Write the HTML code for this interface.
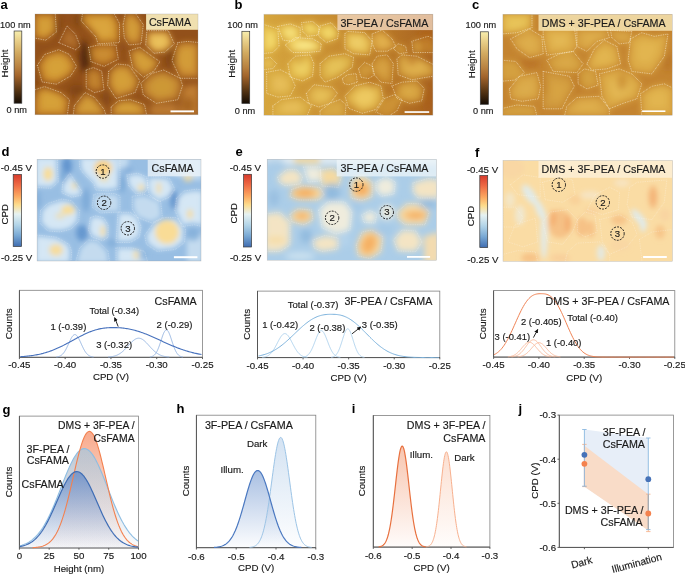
<!DOCTYPE html><html><head><meta charset="utf-8"><style>html,body{margin:0;padding:0;background:#fff;width:685px;height:574px;overflow:hidden}svg{display:block;will-change:transform}text{font-family:"Liberation Sans",sans-serif;stroke:#1a1a1a;stroke-width:0.16px}text[font-weight="bold"]{stroke-width:0}</style></head><body>
<svg width="685" height="574" viewBox="0 0 685 574" font-family="Liberation Sans, sans-serif">
<defs>
<linearGradient id="cbH" x1="0" y1="0" x2="0" y2="1">
<stop offset="0" stop-color="#f7eeae"/><stop offset="0.12" stop-color="#ead28c"/><stop offset="0.3" stop-color="#d2aa60"/>
<stop offset="0.5" stop-color="#b88140"/><stop offset="0.62" stop-color="#a2642c"/><stop offset="0.8" stop-color="#5e3a16"/><stop offset="1" stop-color="#150c04"/></linearGradient>
<linearGradient id="cbC" x1="0" y1="0" x2="0" y2="1">
<stop offset="0" stop-color="#d73a2c"/><stop offset="0.15" stop-color="#ef6c45"/><stop offset="0.3" stop-color="#fca860"/>
<stop offset="0.42" stop-color="#fddc8c"/><stop offset="0.55" stop-color="#e6f2f2"/><stop offset="0.7" stop-color="#b2d4e8"/><stop offset="0.85" stop-color="#78a8d4"/><stop offset="1" stop-color="#3f6cb0"/></linearGradient>
<filter id="bl3" x="-20%" y="-20%" width="140%" height="140%"><feGaussianBlur stdDeviation="3.4"/></filter>
<filter id="bl25" x="-20%" y="-20%" width="140%" height="140%"><feGaussianBlur stdDeviation="2.4"/></filter>
<filter id="bl32" x="-20%" y="-20%" width="140%" height="140%"><feGaussianBlur stdDeviation="3.2"/></filter>
<filter id="bl5" x="-20%" y="-20%" width="140%" height="140%"><feGaussianBlur stdDeviation="4.5"/></filter>
<linearGradient id="gDB" x1="0" y1="0" x2="0" y2="1"><stop offset="0" stop-color="#6a8ec8" stop-opacity="0.85"/><stop offset="1" stop-color="#8aa8d8" stop-opacity="0.05"/></linearGradient>
<linearGradient id="gLB" x1="0" y1="0" x2="0" y2="1"><stop offset="0" stop-color="#9cc4e6" stop-opacity="0.7"/><stop offset="1" stop-color="#9cc4e6" stop-opacity="0.03"/></linearGradient>
<linearGradient id="gOR" x1="0" y1="0" x2="0" y2="1"><stop offset="0" stop-color="#f5865c" stop-opacity="0.7"/><stop offset="1" stop-color="#f5865c" stop-opacity="0.03"/></linearGradient>
<linearGradient id="gGR" x1="0" y1="0" x2="0" y2="1"><stop offset="0" stop-color="#c2c4ca" stop-opacity="0.95"/><stop offset="0.6" stop-color="#dcdde2" stop-opacity="0.6"/><stop offset="1" stop-color="#f4f4f6" stop-opacity="0.3"/></linearGradient>
<linearGradient id="hDB" x1="0" y1="0" x2="0" y2="1"><stop offset="0" stop-color="#6f95cf" stop-opacity="0.6"/><stop offset="1" stop-color="#6f95cf" stop-opacity="0.02"/></linearGradient>
<linearGradient id="hLB" x1="0" y1="0" x2="0" y2="1"><stop offset="0" stop-color="#b0cbe8" stop-opacity="0.55"/><stop offset="1" stop-color="#b0cbe8" stop-opacity="0.02"/></linearGradient>
<linearGradient id="iOR" x1="0" y1="0" x2="0" y2="1"><stop offset="0" stop-color="#f08c60" stop-opacity="0.5"/><stop offset="1" stop-color="#f08c60" stop-opacity="0.03"/></linearGradient>
<linearGradient id="iLO" x1="0" y1="0" x2="0" y2="1"><stop offset="0" stop-color="#f8b898" stop-opacity="0.45"/><stop offset="1" stop-color="#f8b898" stop-opacity="0.03"/></linearGradient>
<marker id="arr" viewBox="0 0 10 10" refX="9" refY="5" markerWidth="4.5" markerHeight="4.5" orient="auto"><path d="M0,0 L10,5 L0,10 z" fill="#111"/></marker>
</defs>
<rect width="685" height="574" fill="#fff"/>
<text x="0.40" y="9.30" font-size="13" text-anchor="start" font-weight="bold" fill="#000" >a</text>
<text x="234.60" y="9.40" font-size="13" text-anchor="start" font-weight="bold" fill="#000" >b</text>
<text x="471.90" y="9.40" font-size="13" text-anchor="start" font-weight="bold" fill="#000" >c</text>
<text x="1.40" y="155.60" font-size="13" text-anchor="start" font-weight="bold" fill="#000" >d</text>
<text x="235.60" y="155.60" font-size="13" text-anchor="start" font-weight="bold" fill="#000" >e</text>
<text x="474.90" y="156.60" font-size="13" text-anchor="start" font-weight="bold" fill="#000" >f</text>
<text x="2.40" y="413.60" font-size="13" text-anchor="start" font-weight="bold" fill="#000" >g</text>
<text x="176.40" y="413.20" font-size="13" text-anchor="start" font-weight="bold" fill="#000" >h</text>
<text x="351.80" y="413.20" font-size="13" text-anchor="start" font-weight="bold" fill="#000" >i</text>
<text x="518.60" y="413.20" font-size="13" text-anchor="start" font-weight="bold" fill="#000" >j</text>
<rect x="14.10" y="31.00" width="7.70" height="72.20" fill="url(#cbH)" stroke="#3a3a3a" stroke-width="0.7"/>
<text x="0.00" y="27.80" font-size="9.2" text-anchor="start" fill="#1a1a1a" >100 nm</text>
<text x="6.60" y="113.20" font-size="9.2" text-anchor="start" fill="#1a1a1a" >0 nm</text>
<text x="0" y="0" font-size="9.7" text-anchor="middle" fill="#1a1a1a" transform="translate(7.80,63.50) rotate(-90)">Height</text>
<rect x="241.90" y="31.30" width="7.80" height="72.10" fill="url(#cbH)" stroke="#3a3a3a" stroke-width="0.7"/>
<text x="227.30" y="28.00" font-size="9.2" text-anchor="start" fill="#1a1a1a" >100 nm</text>
<text x="234.80" y="113.60" font-size="9.2" text-anchor="start" fill="#1a1a1a" >0 nm</text>
<text x="0" y="0" font-size="9.7" text-anchor="middle" fill="#1a1a1a" transform="translate(235.30,63.80) rotate(-90)">Height</text>
<rect x="480.30" y="31.80" width="8.10" height="72.50" fill="url(#cbH)" stroke="#3a3a3a" stroke-width="0.7"/>
<text x="465.60" y="28.20" font-size="9.2" text-anchor="start" fill="#1a1a1a" >100 nm</text>
<text x="473.00" y="114.30" font-size="9.2" text-anchor="start" fill="#1a1a1a" >0 nm</text>
<text x="0" y="0" font-size="9.7" text-anchor="middle" fill="#1a1a1a" transform="translate(474.50,64.30) rotate(-90)">Height</text>
<clipPath id="ca"><rect x="35.00" y="14.00" width="163.00" height="100.80"/></clipPath>
<g clip-path="url(#ca)">
<rect x="35.00" y="14.00" width="163.00" height="100.80" fill="#92501a"/>
<g filter="url(#bl3)">
<path d="M34.5,13.7 L54.6,13.7 L55.7,31.6 L45.7,39.4 L34.5,37.2 Z" fill="#cc8a2e" opacity="1.0"/>
<path d="M59.6,42.4 L67.4,26.7 L75.2,34.6 L79.7,45.8 L75.2,49.1 Z" fill="#a86424" opacity="1.0"/>
<path d="M82.6,21.5 L96.1,36.1 L98.3,42.8 L118.4,41.7 L118.4,23.8 L112.8,13.7 L83.8,13.7 Z" fill="#d0922f" opacity="1.0"/>
<path d="M123.6,25.0 L124.7,37.3 L129.2,44.0 L140.4,42.9 L142.6,25.0 L134.8,13.8 L125.8,13.8 Z" fill="#ca8a30" opacity="1.0"/>
<path d="M147.6,31.4 L146.5,44.8 L154.3,52.6 L164.4,51.5 L173.4,43.7 L167.8,31.4 Z" fill="#dea646" opacity="1.0"/>
<path d="M178.3,43.5 L187.3,42.3 L198.5,43.5 L198.5,77.0 L180.6,77.0 L172.8,60.2 Z" fill="#ca8a30" opacity="1.0"/>
<path d="M38.6,65.3 L45.3,55.2 L58.7,50.7 L68.8,55.2 L75.5,66.4 L69.9,75.3 L56.5,83.2 L43.0,80.9 Z" fill="#cc8c2e" opacity="1.0"/>
<path d="M89.4,47.7 L98.4,45.5 L115.2,45.5 L117.4,58.9 L104.0,65.6 L91.7,61.2 Z" fill="#c07a28" opacity="1.0"/>
<path d="M130.0,51.6 L140.0,48.2 L152.4,57.2 L159.1,61.6 L153.5,70.6 L143.4,76.2 L133.3,67.2 Z" fill="#ca8c30" opacity="1.0"/>
<path d="M86.7,70.5 L93.4,68.3 L101.2,71.7 L103.5,89.6 L94.5,91.8 L86.7,87.3 Z" fill="#b87428" opacity="1.0"/>
<path d="M109.6,71.7 L117.4,64.9 L128.6,66.1 L138.7,80.6 L134.2,91.8 L116.3,97.4 L108.5,85.1 Z" fill="#ca8c30" opacity="1.0"/>
<path d="M142.2,83.2 L152.3,74.3 L163.5,70.9 L179.1,78.8 L181.4,85.5 L176.9,98.9 L156.8,102.2 L144.5,94.4 Z" fill="#c48630" opacity="1.0"/>
<path d="M34.9,90.8 L45.0,87.4 L60.6,93.0 L68.5,99.8 L66.2,115.4 L34.9,115.4 Z" fill="#cc8c2e" opacity="1.0"/>
<path d="M75.2,105.7 L85.3,93.4 L94.2,97.9 L103.2,109.1 L105.4,115.8 L74.1,115.8 Z" fill="#c88a30" opacity="1.0"/>
<path d="M112.1,106.9 L118.9,101.3 L130.0,100.2 L143.5,104.7 L145.7,115.8 L112.1,115.8 Z" fill="#ca8c30" opacity="1.0"/>
<path d="M184.1,86.3 L198.6,84.1 L198.6,115.4 L178.5,115.4 L180.7,102.0 Z" fill="#c07e30" opacity="1.0"/>
<path d="M150.1,104.8 L177.0,103.7 L177.0,116.0 L150.1,116.0 Z" fill="#bc7a30" opacity="1.0"/>
<path d="M38.3,18.5 L51.1,18.5 L51.9,30.0 L45.4,35.0 L38.3,33.5 Z" fill="#d6a43a" opacity="0.8"/>
<path d="M63.9,41.4 L68.9,31.4 L73.9,36.4 L76.7,43.6 L73.9,45.7 Z" fill="#b47430" opacity="0.8"/>
<path d="M89.5,23.7 L98.0,33.0 L99.5,37.3 L112.3,36.6 L112.3,25.2 L108.7,18.7 L90.2,18.7 Z" fill="#dcaa42" opacity="0.8"/>
<path d="M126.5,26.3 L127.2,34.2 L130.1,38.5 L137.2,37.8 L138.6,26.3 L133.6,19.2 L127.9,19.2 Z" fill="#d4a03a" opacity="0.8"/>
<path d="M151.7,35.4 L151.0,44.0 L156.0,49.0 L162.5,48.3 L168.2,43.3 L164.6,35.4 Z" fill="#ecc860" opacity="0.8"/>
<path d="M181.1,48.4 L186.8,47.7 L194.0,48.4 L194.0,69.9 L182.5,69.9 L177.5,59.2 Z" fill="#d4a03a" opacity="0.8"/>
<path d="M45.2,65.7 L49.5,59.3 L58.1,56.4 L64.5,59.3 L68.8,66.4 L65.2,72.2 L56.7,77.2 L48.1,75.7 Z" fill="#d8a63a" opacity="0.8"/>
<path d="M94.2,50.0 L99.9,48.6 L110.6,48.6 L112.1,57.2 L103.5,61.5 L95.6,58.6 Z" fill="#cc9232" opacity="0.8"/>
<path d="M135.2,55.3 L141.7,53.1 L149.5,58.8 L153.8,61.7 L150.2,67.4 L143.8,71.0 L137.4,65.3 Z" fill="#d6a43c" opacity="0.8"/>
<path d="M89.4,73.9 L93.7,72.5 L98.7,74.6 L100.2,86.1 L94.4,87.5 L89.4,84.6 Z" fill="#c48830" opacity="0.8"/>
<path d="M114.0,74.5 L119.0,70.3 L126.2,71.0 L132.6,80.3 L129.8,87.4 L118.3,91.0 L113.3,83.1 Z" fill="#d6a43c" opacity="0.8"/>
<path d="M149.4,84.2 L155.8,78.5 L163.0,76.4 L173.0,81.4 L174.4,85.7 L171.5,94.2 L158.7,96.4 L150.8,91.4 Z" fill="#d09c38" opacity="0.8"/>
<path d="M41.0,94.2 L47.4,92.1 L57.4,95.7 L62.4,100.0 L61.0,110.0 L41.0,110.0 Z" fill="#d8a63a" opacity="0.8"/>
<path d="M80.4,105.9 L86.8,98.0 L92.5,100.9 L98.3,108.0 L99.7,112.3 L79.7,112.3 Z" fill="#d4a03a" opacity="0.8"/>
<path d="M117.5,107.1 L121.8,103.5 L129.0,102.8 L137.5,105.7 L139.0,112.8 L117.5,112.8 Z" fill="#d6a43c" opacity="0.8"/>
<ellipse cx="85.0" cy="58.0" rx="6.0" ry="15.0" fill="#5a2c0c" opacity="0.85" transform="rotate(0 85.0 58.0)"/>
<ellipse cx="86.0" cy="57.0" rx="3.0" ry="12.0" fill="#4a2408" opacity="0.8" transform="rotate(0 86.0 57.0)"/>
<ellipse cx="57.5" cy="27.0" rx="2.2" ry="12.0" fill="#6e3a10" opacity="0.8" transform="rotate(0 57.5 27.0)"/>
<ellipse cx="79.0" cy="20.0" rx="3.0" ry="6.0" fill="#6e3a10" opacity="0.75" transform="rotate(0 79.0 20.0)"/>
<ellipse cx="82.0" cy="44.0" rx="3.0" ry="4.0" fill="#5a2c0c" opacity="0.8" transform="rotate(0 82.0 44.0)"/>
<ellipse cx="77.0" cy="90.0" rx="8.0" ry="5.0" fill="#7a4014" opacity="0.75" transform="rotate(0 77.0 90.0)"/>
<ellipse cx="106.0" cy="98.0" rx="3.0" ry="8.0" fill="#7a4014" opacity="0.65" transform="rotate(0 106.0 98.0)"/>
<ellipse cx="171.0" cy="58.0" rx="5.0" ry="10.0" fill="#7a4014" opacity="0.7" transform="rotate(0 171.0 58.0)"/>
<ellipse cx="188.0" cy="105.0" rx="6.0" ry="8.0" fill="#8a4a16" opacity="0.5" transform="rotate(0 188.0 105.0)"/>
<ellipse cx="36.0" cy="80.0" rx="2.0" ry="18.0" fill="#7a4014" opacity="0.6" transform="rotate(0 36.0 80.0)"/>
<ellipse cx="140.0" cy="82.0" rx="3.0" ry="6.0" fill="#8a4a16" opacity="0.5" transform="rotate(0 140.0 82.0)"/>
<ellipse cx="122.0" cy="48.0" rx="5.0" ry="3.0" fill="#8a4a16" opacity="0.4" transform="rotate(0 122.0 48.0)"/>
</g>
<path d="M33.8,12.8 L55.2,12.8 L56.4,31.9 L45.7,40.2 L33.8,37.8 Z" fill="none" stroke="#fff8e8" stroke-width="0.8" stroke-linecap="round" stroke-dasharray="0.01 1.75" opacity="0.75"/>
<path d="M58.8,42.6 L67.1,25.9 L75.5,34.2 L80.2,46.1 L75.5,49.7 Z" fill="none" stroke="#fff8e8" stroke-width="0.8" stroke-linecap="round" stroke-dasharray="0.01 1.75" opacity="0.75"/>
<path d="M81.4,21.1 L95.7,36.6 L98.1,43.8 L119.5,42.6 L119.5,23.5 L113.6,12.8 L82.6,12.8 Z" fill="none" stroke="#fff8e8" stroke-width="0.8" stroke-linecap="round" stroke-dasharray="0.01 1.75" opacity="0.75"/>
<path d="M123.1,24.7 L124.3,37.8 L129.0,45.0 L141.0,43.8 L143.3,24.7 L135.0,12.8 L125.5,12.8 Z" fill="none" stroke="#fff8e8" stroke-width="0.8" stroke-linecap="round" stroke-dasharray="0.01 1.75" opacity="0.75"/>
<path d="M146.9,30.7 L145.7,45.0 L154.0,53.3 L164.8,52.1 L174.3,43.8 L168.3,30.7 Z" fill="none" stroke="#fff8e8" stroke-width="0.8" stroke-linecap="round" stroke-dasharray="0.01 1.75" opacity="0.75"/>
<path d="M177.9,42.6 L187.4,41.4 L199.3,42.6 L199.3,78.3 L180.2,78.3 L171.9,60.4 Z" fill="none" stroke="#fff8e8" stroke-width="0.8" stroke-linecap="round" stroke-dasharray="0.01 1.75" opacity="0.75"/>
<path d="M37.4,65.2 L44.5,54.5 L58.8,49.7 L69.5,54.5 L76.7,66.4 L70.7,75.9 L56.4,84.2 L42.1,81.9 Z" fill="none" stroke="#fff8e8" stroke-width="0.8" stroke-linecap="round" stroke-dasharray="0.01 1.75" opacity="0.75"/>
<path d="M88.6,47.3 L98.1,45.0 L116.0,45.0 L118.3,59.2 L104.0,66.4 L91.0,61.6 Z" fill="none" stroke="#fff8e8" stroke-width="0.8" stroke-linecap="round" stroke-dasharray="0.01 1.75" opacity="0.75"/>
<path d="M129.0,50.9 L139.8,47.3 L152.9,56.9 L160.0,61.6 L154.0,71.1 L143.3,77.1 L132.6,67.6 Z" fill="none" stroke="#fff8e8" stroke-width="0.8" stroke-linecap="round" stroke-dasharray="0.01 1.75" opacity="0.75"/>
<path d="M86.2,70.0 L93.3,67.6 L101.7,71.1 L104.0,90.2 L94.5,92.6 L86.2,87.8 Z" fill="none" stroke="#fff8e8" stroke-width="0.8" stroke-linecap="round" stroke-dasharray="0.01 1.75" opacity="0.75"/>
<path d="M108.8,71.1 L117.1,64.0 L129.0,65.2 L139.8,80.7 L135.0,92.6 L116.0,98.5 L107.6,85.4 Z" fill="none" stroke="#fff8e8" stroke-width="0.8" stroke-linecap="round" stroke-dasharray="0.01 1.75" opacity="0.75"/>
<path d="M141.0,83.0 L151.7,73.5 L163.6,70.0 L180.2,78.3 L182.6,85.4 L177.9,99.7 L156.4,103.3 L143.3,95.0 Z" fill="none" stroke="#fff8e8" stroke-width="0.8" stroke-linecap="round" stroke-dasharray="0.01 1.75" opacity="0.75"/>
<path d="M33.8,90.2 L44.5,86.6 L61.2,92.6 L69.5,99.7 L67.1,116.4 L33.8,116.4 Z" fill="none" stroke="#fff8e8" stroke-width="0.8" stroke-linecap="round" stroke-dasharray="0.01 1.75" opacity="0.75"/>
<path d="M74.3,105.7 L85.0,92.6 L94.5,97.3 L104.0,109.2 L106.4,116.4 L73.1,116.4 Z" fill="none" stroke="#fff8e8" stroke-width="0.8" stroke-linecap="round" stroke-dasharray="0.01 1.75" opacity="0.75"/>
<path d="M111.2,106.9 L118.3,100.9 L130.2,99.7 L144.5,104.5 L146.9,116.4 L111.2,116.4 Z" fill="none" stroke="#fff8e8" stroke-width="0.8" stroke-linecap="round" stroke-dasharray="0.01 1.75" opacity="0.75"/>
<rect x="146.10" y="14.00" width="51.90" height="15.80" fill="#f8ecbc" opacity="0.93"/>
<text x="148.90" y="26.40" font-size="10.7" text-anchor="start" fill="#1a1a1a" >CsFAMA</text>
<rect x="170.50" y="110.40" width="23.50" height="1.90" fill="#ffffff"/>
</g>
<rect x="35.00" y="14.00" width="163.00" height="100.80" fill="none" stroke="#9a9a9a" stroke-width="0.5" opacity="0.6"/>
<linearGradient id="gb_base" x1="0" y1="0" x2="1" y2="0"><stop offset="0" stop-color="#d6a63e"/><stop offset="0.4" stop-color="#c88e32"/><stop offset="0.7" stop-color="#ba7a28"/><stop offset="1" stop-color="#a86220"/></linearGradient>
<clipPath id="cb"><rect x="263.90" y="14.20" width="169.00" height="101.10"/></clipPath>
<g clip-path="url(#cb)">
<rect x="263.90" y="14.20" width="169.00" height="101.10" fill="url(#gb_base)"/>
<g filter="url(#bl3)">
<path d="M262.0,24.4 L277.7,29.3 L278.9,46.1 L272.9,52.1 L262.0,53.3 Z" fill="#e8c452" opacity="1.0"/>
<path d="M278.3,26.6 L290.3,24.2 L299.9,27.8 L299.9,36.2 L292.7,41.0 L283.1,39.8 Z" fill="#ecca5a" opacity="1.0"/>
<path d="M301.7,22.9 L312.6,21.7 L319.8,27.7 L317.4,34.9 L307.7,36.1 L302.9,31.3 Z" fill="#e8c452" opacity="1.0"/>
<path d="M319.1,26.6 L331.2,23.0 L338.4,31.4 L337.2,38.6 L326.3,42.3 L319.1,36.2 Z" fill="#e8c452" opacity="1.0"/>
<path d="M285.9,45.0 L295.6,37.8 L312.4,39.0 L320.8,43.8 L319.6,51.1 L307.6,52.3 L293.1,52.3 Z" fill="#efd064" opacity="1.0"/>
<path d="M262.0,58.8 L270.4,57.6 L276.4,63.6 L272.8,68.4 L262.0,69.6 Z" fill="#dcb046" opacity="1.0"/>
<path d="M288.2,63.7 L295.5,56.5 L309.9,55.3 L313.5,63.7 L312.3,75.8 L302.7,80.6 L290.6,77.0 Z" fill="#e4bc4e" opacity="1.0"/>
<path d="M267.2,72.7 L280.4,70.3 L290.0,75.1 L294.8,85.9 L290.0,95.5 L278.0,96.7 L267.2,93.1 Z" fill="#dcb046" opacity="1.0"/>
<path d="M320.5,63.7 L329.0,56.5 L344.6,54.1 L353.0,57.7 L351.8,67.3 L337.4,77.0 L325.3,81.8 L320.5,75.8 Z" fill="#dcb046" opacity="1.0"/>
<path d="M345.2,34.1 L345.2,48.5 L353.7,53.4 L369.3,54.6 L371.7,41.3 L364.5,32.9 L347.6,31.7 Z" fill="#e4ba50" opacity="1.0"/>
<path d="M372.5,34.1 L382.1,30.5 L391.7,38.9 L395.4,46.1 L386.9,50.9 L376.1,50.9 L372.5,43.7 Z" fill="#d8a040" opacity="1.0"/>
<path d="M393.5,48.7 L398.3,43.9 L405.5,46.3 L406.7,52.4 L399.5,53.6 Z" fill="#d09838" opacity="1.0"/>
<path d="M412.3,41.4 L427.9,36.6 L433.9,39.0 L433.9,52.2 L413.5,52.2 Z" fill="#d09a3a" opacity="1.0"/>
<path d="M342.6,78.5 L347.4,74.9 L355.8,73.7 L357.1,82.2 L348.6,84.6 L343.8,83.4 Z" fill="#d4a040" opacity="1.0"/>
<path d="M358.8,68.7 L364.8,62.7 L372.0,66.3 L374.4,74.7 L368.4,78.3 L361.2,77.1 Z" fill="#d09a3a" opacity="1.0"/>
<path d="M372.5,63.8 L377.3,56.5 L386.9,55.3 L392.9,63.8 L391.7,83.0 L380.9,81.8 L373.7,73.4 Z" fill="#cc9236" opacity="1.0"/>
<path d="M397.5,58.9 L402.3,55.3 L416.7,56.5 L433.6,64.9 L433.6,75.7 L411.9,79.4 L398.7,74.5 Z" fill="#d4a040" opacity="1.0"/>
<path d="M345.5,95.9 L355.1,86.3 L369.6,82.7 L380.4,86.3 L382.8,98.3 L375.6,109.2 L362.3,112.8 L349.1,108.0 Z" fill="#e0b44c" opacity="1.0"/>
<path d="M306.9,93.5 L314.1,85.1 L332.1,87.5 L337.0,93.5 L329.7,103.1 L318.9,106.7 L309.3,103.1 Z" fill="#dcae48" opacity="1.0"/>
<path d="M273.5,105.8 L281.9,99.8 L299.9,97.4 L310.8,105.8 L306.0,116.7 L273.5,116.7 Z" fill="#dcb046" opacity="1.0"/>
<path d="M320.5,110.7 L330.1,103.5 L339.7,99.9 L345.7,104.7 L344.5,116.7 L320.5,116.7 Z" fill="#d8a844" opacity="1.0"/>
<path d="M376.3,111.8 L384.8,98.6 L394.4,95.0 L401.6,99.8 L396.8,110.6 L387.2,116.6 Z" fill="#cc9236" opacity="1.0"/>
<path d="M392.5,86.1 L402.2,82.5 L416.6,81.3 L423.8,88.5 L421.4,100.6 L409.4,103.0 L397.4,98.2 Z" fill="#d09a3a" opacity="1.0"/>
<path d="M265.8,31.6 L274.7,34.4 L275.3,43.9 L271.9,47.3 L265.8,48.0 Z" fill="#f4dc70" opacity="0.85"/>
<path d="M283.7,29.2 L290.5,27.8 L295.9,29.9 L295.9,34.7 L291.8,37.4 L286.4,36.7 Z" fill="#f8e480" opacity="0.85"/>
<path d="M305.5,25.6 L311.6,24.9 L315.7,28.3 L314.3,32.4 L308.9,33.1 L306.1,30.3 Z" fill="#f4dc70" opacity="0.85"/>
<path d="M323.2,29.4 L330.0,27.3 L334.1,32.1 L333.4,36.2 L327.3,38.3 L323.2,34.8 Z" fill="#f4dc70" opacity="0.85"/>
<path d="M294.2,45.4 L299.6,41.3 L309.2,42.0 L314.0,44.7 L313.3,48.8 L306.5,49.5 L298.3,49.5 Z" fill="#faea8c" opacity="0.85"/>
<path d="M264.9,60.9 L269.7,60.2 L273.1,63.6 L271.0,66.4 L264.9,67.0 Z" fill="#ecc860" opacity="0.85"/>
<path d="M294.1,65.4 L298.2,61.3 L306.4,60.6 L308.4,65.4 L307.8,72.2 L302.3,74.9 L295.5,72.9 Z" fill="#f0d468" opacity="0.85"/>
<path d="M273.2,77.7 L280.7,76.3 L286.1,79.0 L288.9,85.2 L286.1,90.6 L279.3,91.3 L273.2,89.3 Z" fill="#e8c05c" opacity="0.85"/>
<path d="M326.9,65.0 L331.7,60.9 L340.6,59.6 L345.3,61.6 L344.7,67.1 L336.5,72.5 L329.6,75.3 L326.9,71.8 Z" fill="#e8c65c" opacity="0.85"/>
<path d="M350.2,37.7 L350.2,45.9 L355.0,48.6 L363.9,49.3 L365.2,41.8 L361.1,37.0 L351.6,36.3 Z" fill="#f0d06a" opacity="0.85"/>
<path d="M376.8,37.6 L382.3,35.6 L387.7,40.3 L389.8,44.4 L385.0,47.2 L378.9,47.2 L376.8,43.1 Z" fill="#e4b450" opacity="0.85"/>
<path d="M417.5,42.6 L426.3,39.9 L429.7,41.3 L429.7,48.8 L418.1,48.8 Z" fill="#dcaa48" opacity="0.85"/>
<path d="M376.7,65.7 L379.5,61.6 L384.9,60.9 L388.3,65.7 L387.6,76.6 L381.5,75.9 L377.4,71.2 Z" fill="#d8a444" opacity="0.85"/>
<path d="M404.4,62.2 L407.1,60.1 L415.3,60.8 L424.9,65.6 L424.9,71.7 L412.6,73.8 L405.1,71.0 Z" fill="#e2b450" opacity="0.85"/>
<path d="M354.0,96.6 L359.4,91.1 L367.6,89.1 L373.7,91.1 L375.1,97.9 L371.0,104.1 L363.5,106.1 L356.0,103.4 Z" fill="#eecc64" opacity="0.85"/>
<path d="M313.0,94.6 L317.1,89.8 L327.4,91.2 L330.1,94.6 L326.0,100.1 L319.9,102.1 L314.4,100.1 Z" fill="#e8c25a" opacity="0.85"/>
<path d="M281.0,106.4 L285.8,103.0 L296.0,101.6 L302.2,106.4 L299.4,112.5 L281.0,112.5 Z" fill="#e8c05c" opacity="0.85"/>
<path d="M399.7,88.4 L405.1,86.4 L413.3,85.7 L417.4,89.8 L416.1,96.6 L409.2,98.0 L402.4,95.3 Z" fill="#dcaa48" opacity="0.85"/>
<ellipse cx="426.0" cy="40.0" rx="8.0" ry="12.0" fill="#b06418" opacity="0.6" transform="rotate(0 426.0 40.0)"/>
<ellipse cx="428.0" cy="100.0" rx="6.0" ry="14.0" fill="#a85c18" opacity="0.55" transform="rotate(0 428.0 100.0)"/>
<ellipse cx="372.0" cy="80.0" rx="6.0" ry="8.0" fill="#b87020" opacity="0.5" transform="rotate(0 372.0 80.0)"/>
<ellipse cx="300.0" cy="60.0" rx="4.0" ry="6.0" fill="#c89032" opacity="0.4" transform="rotate(0 300.0 60.0)"/>
<ellipse cx="350.0" cy="108.0" rx="8.0" ry="5.0" fill="#c08028" opacity="0.4" transform="rotate(0 350.0 108.0)"/>
<ellipse cx="395.0" cy="88.0" rx="5.0" ry="6.0" fill="#b87024" opacity="0.5" transform="rotate(0 395.0 88.0)"/>
<ellipse cx="412.0" cy="60.0" rx="5.0" ry="6.0" fill="#b87024" opacity="0.5" transform="rotate(0 412.0 60.0)"/>
</g>
<path d="M261.8,23.9 L277.9,28.9 L279.1,46.3 L272.9,52.5 L261.8,53.7 Z" fill="none" stroke="#fff8e8" stroke-width="0.8" stroke-linecap="round" stroke-dasharray="0.01 1.75" opacity="0.75"/>
<path d="M277.9,26.4 L290.3,23.9 L300.2,27.6 L300.2,36.3 L292.8,41.3 L282.9,40.1 Z" fill="none" stroke="#fff8e8" stroke-width="0.8" stroke-linecap="round" stroke-dasharray="0.01 1.75" opacity="0.75"/>
<path d="M301.5,22.7 L312.6,21.4 L320.1,27.6 L317.6,35.1 L307.7,36.3 L302.7,31.4 Z" fill="none" stroke="#fff8e8" stroke-width="0.8" stroke-linecap="round" stroke-dasharray="0.01 1.75" opacity="0.75"/>
<path d="M318.8,26.4 L331.2,22.7 L338.7,31.4 L337.4,38.8 L326.3,42.5 L318.8,36.3 Z" fill="none" stroke="#fff8e8" stroke-width="0.8" stroke-linecap="round" stroke-dasharray="0.01 1.75" opacity="0.75"/>
<path d="M285.3,45.0 L295.3,37.6 L312.6,38.8 L321.3,43.8 L320.1,51.2 L307.7,52.5 L292.8,52.5 Z" fill="none" stroke="#fff8e8" stroke-width="0.8" stroke-linecap="round" stroke-dasharray="0.01 1.75" opacity="0.75"/>
<path d="M261.8,58.7 L270.4,57.4 L276.6,63.6 L272.9,68.6 L261.8,69.8 Z" fill="none" stroke="#fff8e8" stroke-width="0.8" stroke-linecap="round" stroke-dasharray="0.01 1.75" opacity="0.75"/>
<path d="M287.8,63.6 L295.3,56.2 L310.1,54.9 L313.9,63.6 L312.6,76.0 L302.7,81.0 L290.3,77.3 Z" fill="none" stroke="#fff8e8" stroke-width="0.8" stroke-linecap="round" stroke-dasharray="0.01 1.75" opacity="0.75"/>
<path d="M266.7,72.3 L280.4,69.8 L290.3,74.8 L295.3,86.0 L290.3,95.9 L277.9,97.1 L266.7,93.4 Z" fill="none" stroke="#fff8e8" stroke-width="0.8" stroke-linecap="round" stroke-dasharray="0.01 1.75" opacity="0.75"/>
<path d="M320.1,63.6 L328.8,56.2 L344.9,53.7 L353.6,57.4 L352.3,67.3 L337.4,77.3 L325.0,82.2 L320.1,76.0 Z" fill="none" stroke="#fff8e8" stroke-width="0.8" stroke-linecap="round" stroke-dasharray="0.01 1.75" opacity="0.75"/>
<path d="M344.9,33.9 L344.9,48.7 L353.6,53.7 L369.7,54.9 L372.2,41.3 L364.7,32.6 L347.4,31.4 Z" fill="none" stroke="#fff8e8" stroke-width="0.8" stroke-linecap="round" stroke-dasharray="0.01 1.75" opacity="0.75"/>
<path d="M372.2,33.9 L382.1,30.1 L392.0,38.8 L395.8,46.3 L387.1,51.2 L375.9,51.2 L372.2,43.8 Z" fill="none" stroke="#fff8e8" stroke-width="0.8" stroke-linecap="round" stroke-dasharray="0.01 1.75" opacity="0.75"/>
<path d="M393.3,48.7 L398.2,43.8 L405.7,46.3 L406.9,52.5 L399.5,53.7 Z" fill="none" stroke="#fff8e8" stroke-width="0.8" stroke-linecap="round" stroke-dasharray="0.01 1.75" opacity="0.75"/>
<path d="M411.9,41.3 L428.0,36.3 L434.2,38.8 L434.2,52.5 L413.1,52.5 Z" fill="none" stroke="#fff8e8" stroke-width="0.8" stroke-linecap="round" stroke-dasharray="0.01 1.75" opacity="0.75"/>
<path d="M342.4,78.5 L347.4,74.8 L356.1,73.6 L357.3,82.2 L348.6,84.7 L343.6,83.5 Z" fill="none" stroke="#fff8e8" stroke-width="0.8" stroke-linecap="round" stroke-dasharray="0.01 1.75" opacity="0.75"/>
<path d="M358.5,68.6 L364.7,62.4 L372.2,66.1 L374.7,74.8 L368.5,78.5 L361.0,77.3 Z" fill="none" stroke="#fff8e8" stroke-width="0.8" stroke-linecap="round" stroke-dasharray="0.01 1.75" opacity="0.75"/>
<path d="M372.2,63.6 L377.1,56.2 L387.1,54.9 L393.3,63.6 L392.0,83.5 L380.9,82.2 L373.4,73.6 Z" fill="none" stroke="#fff8e8" stroke-width="0.8" stroke-linecap="round" stroke-dasharray="0.01 1.75" opacity="0.75"/>
<path d="M397.0,58.7 L402.0,54.9 L416.8,56.2 L434.2,64.9 L434.2,76.0 L411.9,79.8 L398.2,74.8 Z" fill="none" stroke="#fff8e8" stroke-width="0.8" stroke-linecap="round" stroke-dasharray="0.01 1.75" opacity="0.75"/>
<path d="M344.9,95.9 L354.8,86.0 L369.7,82.2 L380.9,86.0 L383.3,98.4 L375.9,109.5 L362.3,113.3 L348.6,108.3 Z" fill="none" stroke="#fff8e8" stroke-width="0.8" stroke-linecap="round" stroke-dasharray="0.01 1.75" opacity="0.75"/>
<path d="M306.4,93.4 L313.9,84.7 L332.5,87.2 L337.4,93.4 L330.0,103.3 L318.8,107.1 L308.9,103.3 Z" fill="none" stroke="#fff8e8" stroke-width="0.8" stroke-linecap="round" stroke-dasharray="0.01 1.75" opacity="0.75"/>
<path d="M272.9,105.8 L281.6,99.6 L300.2,97.1 L311.4,105.8 L306.4,117.0 L272.9,117.0 Z" fill="none" stroke="#fff8e8" stroke-width="0.8" stroke-linecap="round" stroke-dasharray="0.01 1.75" opacity="0.75"/>
<path d="M320.1,110.8 L330.0,103.3 L339.9,99.6 L346.1,104.6 L344.9,117.0 L320.1,117.0 Z" fill="none" stroke="#fff8e8" stroke-width="0.8" stroke-linecap="round" stroke-dasharray="0.01 1.75" opacity="0.75"/>
<path d="M375.9,112.0 L384.6,98.4 L394.5,94.6 L402.0,99.6 L397.0,110.8 L387.1,117.0 Z" fill="none" stroke="#fff8e8" stroke-width="0.8" stroke-linecap="round" stroke-dasharray="0.01 1.75" opacity="0.75"/>
<path d="M392.0,86.0 L402.0,82.2 L416.8,81.0 L424.3,88.4 L421.8,100.8 L409.4,103.3 L397.0,98.4 Z" fill="none" stroke="#fff8e8" stroke-width="0.8" stroke-linecap="round" stroke-dasharray="0.01 1.75" opacity="0.75"/>
<rect x="337.40" y="14.20" width="95.50" height="15.90" fill="#f4dcc8" opacity="0.75"/>
<text x="340.40" y="26.60" font-size="10.7" text-anchor="start" fill="#1a1a1a" >3F-PEA / CsFAMA</text>
<rect x="404.60" y="111.20" width="24.60" height="1.70" fill="#ffffff"/>
</g>
<rect x="263.90" y="14.20" width="169.00" height="101.10" fill="none" stroke="#9a9a9a" stroke-width="0.5" opacity="0.6"/>
<clipPath id="cc"><rect x="502.90" y="14.30" width="169.40" height="101.00"/></clipPath>
<g clip-path="url(#cc)">
<rect x="502.90" y="14.30" width="169.40" height="101.00" fill="#c48430"/>
<g filter="url(#bl3)">
<path d="M501.1,13.0 L531.6,13.0 L531.6,27.6 L517.0,32.5 L501.1,33.8 Z" fill="#e2b84e" opacity="1.0"/>
<path d="M511.1,39.0 L529.4,29.3 L541.7,36.6 L542.9,53.7 L529.4,57.4 L517.2,48.8 Z" fill="#d8a444" opacity="1.0"/>
<path d="M543.5,36.5 L543.5,28.0 L574.1,28.0 L576.5,46.3 L572.9,51.2 L547.2,54.9 Z" fill="#dcaa46" opacity="1.0"/>
<path d="M577.2,29.2 L606.6,29.2 L609.0,37.7 L596.8,41.4 L587.0,51.2 L577.2,46.3 Z" fill="#d8a444" opacity="1.0"/>
<path d="M610.8,30.3 L631.6,31.6 L629.1,42.6 L619.3,43.8 L612.0,37.7 Z" fill="#d8a444" opacity="1.0"/>
<path d="M630.9,39.2 L641.9,33.1 L654.1,36.7 L667.6,34.3 L663.9,56.3 L651.7,73.4 L632.1,70.9 L628.4,59.9 Z" fill="#dcaa46" opacity="1.0"/>
<path d="M547.3,60.2 L559.5,54.1 L573.0,51.6 L582.8,63.8 L576.7,72.4 L553.4,71.2 Z" fill="#d4a040" opacity="1.0"/>
<path d="M587.2,63.7 L594.5,49.1 L604.3,40.5 L616.6,46.6 L620.2,63.7 L606.8,68.6 L592.1,69.9 Z" fill="#dcaa46" opacity="1.0"/>
<path d="M501.0,60.4 L515.6,61.6 L524.2,72.6 L514.4,79.9 L501.0,81.1 Z" fill="#d4a040" opacity="1.0"/>
<path d="M509.8,88.8 L519.6,76.6 L536.7,72.9 L540.4,86.4 L537.9,98.6 L522.0,101.0 L511.0,98.6 Z" fill="#d8a444" opacity="1.0"/>
<path d="M543.5,71.8 L569.2,76.6 L574.1,86.4 L568.0,96.2 L561.9,108.4 L543.5,108.4 Z" fill="#d09a3c" opacity="1.0"/>
<path d="M578.3,73.9 L584.4,69.1 L595.4,71.5 L597.9,84.9 L586.9,88.6 L578.3,83.7 Z" fill="#d4a040" opacity="1.0"/>
<path d="M599.8,74.1 L619.3,69.3 L631.6,74.1 L641.4,83.9 L636.5,98.6 L621.8,103.5 L609.6,108.4 L602.2,96.1 Z" fill="#dcaa46" opacity="1.0"/>
<path d="M501.1,108.8 L517.0,105.1 L534.1,106.4 L536.6,116.1 L501.1,116.1 Z" fill="#d4a040" opacity="1.0"/>
<path d="M567.3,106.3 L577.1,97.7 L599.1,96.5 L608.9,108.7 L608.9,116.1 L564.9,116.1 Z" fill="#d8a444" opacity="1.0"/>
<path d="M640.9,93.9 L651.9,86.5 L664.1,84.1 L673.9,89.0 L673.9,115.9 L642.1,115.9 Z" fill="#dcaa46" opacity="1.0"/>
<path d="M507.8,17.8 L525.0,17.8 L525.0,26.0 L516.8,28.8 L507.8,29.5 Z" fill="#eccc62" opacity="0.6"/>
<path d="M518.8,41.3 L529.1,35.8 L535.9,39.9 L536.6,49.5 L529.1,51.6 L522.2,46.8 Z" fill="#e2b452" opacity="0.6"/>
<path d="M550.6,38.4 L550.6,33.6 L567.7,33.6 L569.1,43.9 L567.1,46.6 L552.6,48.7 Z" fill="#e8c05a" opacity="0.6"/>
<path d="M583.8,33.5 L600.3,33.5 L601.7,38.3 L594.8,40.4 L589.3,45.9 L583.8,43.1 Z" fill="#e2b452" opacity="0.6"/>
<path d="M637.6,44.1 L643.8,40.7 L650.7,42.8 L658.2,41.4 L656.2,53.7 L649.3,63.3 L638.3,62.0 L636.3,55.8 Z" fill="#e6bc56" opacity="0.6"/>
<path d="M555.3,61.1 L562.1,57.6 L569.7,56.3 L575.2,63.1 L571.7,67.9 L558.7,67.2 Z" fill="#deae4c" opacity="0.6"/>
<path d="M594.2,61.0 L598.3,52.8 L603.8,48.0 L610.6,51.4 L612.7,61.0 L605.2,63.7 L596.9,64.4 Z" fill="#e6bc56" opacity="0.6"/>
<path d="M516.6,88.9 L522.1,82.0 L531.7,80.0 L533.8,87.5 L532.4,94.4 L523.5,95.8 L517.3,94.4 Z" fill="#e0b250" opacity="0.6"/>
<path d="M550.8,80.3 L565.2,83.1 L567.9,88.6 L564.5,94.0 L561.1,100.9 L550.8,100.9 Z" fill="#dcaa48" opacity="0.6"/>
<path d="M608.8,80.4 L619.7,77.7 L626.6,80.4 L632.1,85.9 L629.4,94.2 L621.1,96.9 L614.3,99.6 L610.1,92.8 Z" fill="#e8c05a" opacity="0.6"/>
<path d="M576.3,106.5 L581.8,101.7 L594.1,101.1 L599.6,107.9 L599.6,112.0 L574.9,112.0 Z" fill="#e2b452" opacity="0.6"/>
<path d="M648.3,95.5 L654.5,91.4 L661.4,90.0 L666.8,92.7 L666.8,107.8 L649.0,107.8 Z" fill="#e6bc56" opacity="0.6"/>
<ellipse cx="530.0" cy="63.0" rx="10.0" ry="6.0" fill="#b46a1e" opacity="0.55" transform="rotate(0 530.0 63.0)"/>
<ellipse cx="543.0" cy="84.0" rx="4.0" ry="12.0" fill="#b87020" opacity="0.45" transform="rotate(0 543.0 84.0)"/>
<ellipse cx="578.0" cy="82.0" rx="4.0" ry="12.0" fill="#b87020" opacity="0.45" transform="rotate(0 578.0 82.0)"/>
<ellipse cx="622.0" cy="82.0" rx="5.0" ry="8.0" fill="#b87020" opacity="0.45" transform="rotate(0 622.0 82.0)"/>
<ellipse cx="668.0" cy="62.0" rx="4.0" ry="10.0" fill="#b06a20" opacity="0.5" transform="rotate(0 668.0 62.0)"/>
</g>
<path d="M500.8,12.8 L532.0,12.8 L532.0,27.7 L517.0,32.7 L500.8,34.0 Z" fill="none" stroke="#fff8e8" stroke-width="0.8" stroke-linecap="round" stroke-dasharray="0.01 1.75" opacity="0.75"/>
<path d="M510.7,38.9 L529.5,29.0 L541.9,36.4 L543.2,53.9 L529.5,57.6 L517.0,48.9 Z" fill="none" stroke="#fff8e8" stroke-width="0.8" stroke-linecap="round" stroke-dasharray="0.01 1.75" opacity="0.75"/>
<path d="M543.2,36.4 L543.2,27.7 L574.4,27.7 L576.9,46.4 L573.1,51.4 L546.9,55.1 Z" fill="none" stroke="#fff8e8" stroke-width="0.8" stroke-linecap="round" stroke-dasharray="0.01 1.75" opacity="0.75"/>
<path d="M576.9,29.0 L606.8,29.0 L609.3,37.7 L596.9,41.4 L586.9,51.4 L576.9,46.4 Z" fill="none" stroke="#fff8e8" stroke-width="0.8" stroke-linecap="round" stroke-dasharray="0.01 1.75" opacity="0.75"/>
<path d="M610.6,30.2 L631.8,31.5 L629.3,42.7 L619.3,43.9 L611.8,37.7 Z" fill="none" stroke="#fff8e8" stroke-width="0.8" stroke-linecap="round" stroke-dasharray="0.01 1.75" opacity="0.75"/>
<path d="M630.6,38.9 L641.8,32.7 L654.3,36.4 L668.0,34.0 L664.3,56.4 L651.8,73.9 L631.8,71.4 L628.1,60.1 Z" fill="none" stroke="#fff8e8" stroke-width="0.8" stroke-linecap="round" stroke-dasharray="0.01 1.75" opacity="0.75"/>
<path d="M546.9,60.1 L559.4,53.9 L573.1,51.4 L583.1,63.9 L576.9,72.6 L553.2,71.4 Z" fill="none" stroke="#fff8e8" stroke-width="0.8" stroke-linecap="round" stroke-dasharray="0.01 1.75" opacity="0.75"/>
<path d="M586.9,63.9 L594.4,48.9 L604.3,40.2 L616.8,46.4 L620.6,63.9 L606.8,68.9 L591.9,70.1 Z" fill="none" stroke="#fff8e8" stroke-width="0.8" stroke-linecap="round" stroke-dasharray="0.01 1.75" opacity="0.75"/>
<path d="M500.8,60.1 L515.7,61.4 L524.5,72.6 L514.5,80.1 L500.8,81.3 Z" fill="none" stroke="#fff8e8" stroke-width="0.8" stroke-linecap="round" stroke-dasharray="0.01 1.75" opacity="0.75"/>
<path d="M509.5,88.8 L519.5,76.3 L536.9,72.6 L540.7,86.3 L538.2,98.8 L522.0,101.3 L510.7,98.8 Z" fill="none" stroke="#fff8e8" stroke-width="0.8" stroke-linecap="round" stroke-dasharray="0.01 1.75" opacity="0.75"/>
<path d="M543.2,71.4 L569.4,76.3 L574.4,86.3 L568.2,96.3 L561.9,108.8 L543.2,108.8 Z" fill="none" stroke="#fff8e8" stroke-width="0.8" stroke-linecap="round" stroke-dasharray="0.01 1.75" opacity="0.75"/>
<path d="M578.1,73.9 L584.4,68.9 L595.6,71.4 L598.1,85.1 L586.9,88.8 L578.1,83.8 Z" fill="none" stroke="#fff8e8" stroke-width="0.8" stroke-linecap="round" stroke-dasharray="0.01 1.75" opacity="0.75"/>
<path d="M599.4,73.9 L619.3,68.9 L631.8,73.9 L641.8,83.8 L636.8,98.8 L621.8,103.8 L609.3,108.8 L601.9,96.3 Z" fill="none" stroke="#fff8e8" stroke-width="0.8" stroke-linecap="round" stroke-dasharray="0.01 1.75" opacity="0.75"/>
<path d="M500.8,108.8 L517.0,105.0 L534.5,106.3 L536.9,116.2 L500.8,116.2 Z" fill="none" stroke="#fff8e8" stroke-width="0.8" stroke-linecap="round" stroke-dasharray="0.01 1.75" opacity="0.75"/>
<path d="M566.9,106.3 L576.9,97.5 L599.4,96.3 L609.3,108.8 L609.3,116.2 L564.4,116.2 Z" fill="none" stroke="#fff8e8" stroke-width="0.8" stroke-linecap="round" stroke-dasharray="0.01 1.75" opacity="0.75"/>
<path d="M640.5,93.8 L651.8,86.3 L664.3,83.8 L674.2,88.8 L674.2,116.2 L641.8,116.2 Z" fill="none" stroke="#fff8e8" stroke-width="0.8" stroke-linecap="round" stroke-dasharray="0.01 1.75" opacity="0.75"/>
<rect x="538.50" y="14.30" width="133.80" height="16.50" fill="#fbf0c4" opacity="0.75"/>
<text x="541.80" y="26.80" font-size="10.7" text-anchor="start" fill="#1a1a1a" >DMS + 3F-PEA / CsFAMA</text>
<rect x="642.10" y="110.40" width="23.30" height="1.60" fill="#ffffff"/>
</g>
<rect x="502.90" y="14.30" width="169.40" height="101.00" fill="none" stroke="#9a9a9a" stroke-width="0.5" opacity="0.6"/>
<rect x="13.20" y="174.50" width="8.40" height="72.00" fill="url(#cbC)" stroke="#3a3a3a" stroke-width="0.7"/>
<text x="0.80" y="171.30" font-size="9.7" text-anchor="start" fill="#1a1a1a" >-0.45 V</text>
<text x="1.00" y="261.30" font-size="9.7" text-anchor="start" fill="#1a1a1a" >-0.25 V</text>
<text x="0" y="0" font-size="9.7" text-anchor="middle" fill="#1a1a1a" transform="translate(7.70,214.30) rotate(-90)">CPD</text>
<rect x="243.60" y="174.30" width="8.00" height="72.70" fill="url(#cbC)" stroke="#3a3a3a" stroke-width="0.7"/>
<text x="229.70" y="171.40" font-size="9.7" text-anchor="start" fill="#1a1a1a" >-0.45 V</text>
<text x="229.90" y="260.80" font-size="9.7" text-anchor="start" fill="#1a1a1a" >-0.25 V</text>
<text x="0" y="0" font-size="9.7" text-anchor="middle" fill="#1a1a1a" transform="translate(237.30,213.20) rotate(-90)">CPD</text>
<rect x="479.80" y="175.50" width="7.90" height="72.10" fill="url(#cbC)" stroke="#3a3a3a" stroke-width="0.7"/>
<text x="466.90" y="172.70" font-size="9.7" text-anchor="start" fill="#1a1a1a" >-0.45 V</text>
<text x="467.20" y="262.50" font-size="9.7" text-anchor="start" fill="#1a1a1a" >-0.25 V</text>
<text x="0" y="0" font-size="9.7" text-anchor="middle" fill="#1a1a1a" transform="translate(474.30,216.00) rotate(-90)">CPD</text>
<clipPath id="cd"><rect x="37.10" y="159.30" width="163.90" height="101.70"/></clipPath>
<g clip-path="url(#cd)">
<rect x="37.10" y="159.30" width="163.90" height="101.70" fill="#98bee3"/>
<g filter="url(#bl25)">
<path d="M35.5,157.6 L56.5,157.6 L56.5,165.7 L57.3,181.0 L51.0,186.7 L35.5,185.9 Z" fill="#d8e9f5" opacity="0.95"/>
<path d="M70.1,174.8 L81.2,191.6 L79.6,194.7 L71.7,196.4 L62.9,192.4 L63.7,182.8 Z" fill="#d8e9f5" opacity="0.95"/>
<path d="M80.8,158.0 L81.5,168.8 L84.6,173.3 L94.3,183.2 L95.8,188.6 L106.9,189.5 L117.7,187.7 L117.7,158.0 Z" fill="#d8e9f5" opacity="0.95"/>
<path d="M95.1,195.2 L98.2,194.5 L114.0,194.5 L118.5,196.5 L118.5,210.9 L100.5,211.8 L93.3,206.4 Z" fill="#c6ddf0" opacity="0.95"/>
<path d="M42.5,211.1 L48.9,204.7 L61.7,200.7 L70.5,202.3 L77.7,211.1 L76.9,220.7 L69.7,227.9 L60.1,230.3 L48.9,229.5 L41.7,222.3 Z" fill="#d8e9f5" opacity="0.95"/>
<path d="M91.1,218.6 L95.9,217.1 L103.1,218.6 L107.2,225.1 L107.2,236.2 L102.4,239.4 L92.8,236.2 L89.5,229.9 Z" fill="#d8e9f5" opacity="0.95"/>
<path d="M36.0,236.2 L41.9,236.6 L56.2,238.2 L67.5,244.6 L69.9,251.0 L69.1,262.3 L36.0,262.3 Z" fill="#d8e9f5" opacity="0.95"/>
<path d="M76.8,262.7 L81.0,248.3 L89.0,241.1 L97.0,241.8 L106.5,251.4 L108.3,262.7 Z" fill="#c6ddf0" opacity="0.95"/>
<path d="M128.0,175.9 L129.7,185.5 L136.1,192.7 L144.1,191.9 L147.2,187.0 L145.6,177.5 L137.6,174.2 Z" fill="#d8e9f5" opacity="0.95"/>
<path d="M149.4,177.9 L160.6,177.9 L168.5,179.4 L173.4,189.0 L168.5,196.2 L159.0,200.3 L150.2,193.8 L148.5,185.9 Z" fill="#d8e9f5" opacity="0.95"/>
<path d="M177.9,199.0 L184.4,192.6 L195.5,191.0 L202.5,191.7 L202.5,225.0 L193.9,223.0 L182.7,224.6 L176.4,210.2 Z" fill="#d8e9f5" opacity="0.95"/>
<path d="M146.8,235.3 L154.7,224.1 L164.3,219.3 L175.5,219.3 L183.5,228.9 L182.7,241.7 L173.9,248.1 L157.9,249.7 L148.3,243.3 Z" fill="#d8e9f5" opacity="0.95"/>
<path d="M119.2,213.8 L130.4,213.8 L136.8,218.6 L140.0,226.6 L138.4,236.2 L130.4,241.0 L117.4,241.0 Z" fill="#d8e9f5" opacity="0.95"/>
<path d="M133.6,197.5 L144.8,195.9 L159.2,202.4 L160.8,216.7 L151.2,221.6 L138.3,216.7 L133.6,208.8 Z" fill="#c6ddf0" opacity="0.95"/>
<path d="M117.5,248.6 L132.1,248.6 L143.4,251.8 L146.5,263.1 L117.5,263.1 Z" fill="#d8e9f5" opacity="0.95"/>
<path d="M153.0,157.3 L201.6,157.3 L201.6,180.7 L180.0,177.1 L162.0,171.7 Z" fill="#c6ddf0" opacity="0.95"/>
<path d="M186.9,233.6 L203.1,233.6 L203.1,262.4 L186.9,262.4 Z" fill="#c6ddf0" opacity="0.95"/>
<path d="M112.9,156.7 L129.1,156.7 L127.3,167.4 L115.6,169.2 Z" fill="#c6ddf0" opacity="0.95"/>
<ellipse cx="67.0" cy="166.0" rx="5.0" ry="9.0" fill="#5a8ecb" opacity="0.85" transform="rotate(0 67.0 166.0)"/>
<ellipse cx="64.0" cy="176.0" rx="4.0" ry="7.0" fill="#78a6d6" opacity="0.7" transform="rotate(0 64.0 176.0)"/>
<ellipse cx="86.0" cy="200.0" rx="4.0" ry="12.0" fill="#78a6d6" opacity="0.8" transform="rotate(0 86.0 200.0)"/>
<ellipse cx="82.0" cy="233.0" rx="6.0" ry="8.0" fill="#5a8ecb" opacity="0.8" transform="rotate(0 82.0 233.0)"/>
<ellipse cx="174.0" cy="200.0" rx="4.0" ry="10.0" fill="#5a8ecb" opacity="0.8" transform="rotate(0 174.0 200.0)"/>
<ellipse cx="122.0" cy="184.0" rx="4.0" ry="9.0" fill="#78a6d6" opacity="0.7" transform="rotate(0 122.0 184.0)"/>
<ellipse cx="193.0" cy="235.0" rx="7.0" ry="6.0" fill="#78a6d6" opacity="0.7" transform="rotate(0 193.0 235.0)"/>
<ellipse cx="143.0" cy="256.0" rx="4.0" ry="5.0" fill="#78a6d6" opacity="0.6" transform="rotate(0 143.0 256.0)"/>
<ellipse cx="112.0" cy="243.0" rx="5.0" ry="4.0" fill="#78a6d6" opacity="0.6" transform="rotate(0 112.0 243.0)"/>
<ellipse cx="38.0" cy="200.0" rx="3.0" ry="10.0" fill="#78a6d6" opacity="0.6" transform="rotate(0 38.0 200.0)"/>
<ellipse cx="128.0" cy="170.0" rx="5.0" ry="4.0" fill="#78a6d6" opacity="0.5" transform="rotate(0 128.0 170.0)"/>
<ellipse cx="48.0" cy="174.0" rx="5.0" ry="7.0" fill="#f9dc96" opacity="0.95" transform="rotate(0 48.0 174.0)"/>
<ellipse cx="103.0" cy="168.0" rx="9.0" ry="8.0" fill="#f8d286" opacity="1.0" transform="rotate(0 103.0 168.0)"/>
<ellipse cx="104.0" cy="178.0" rx="5.0" ry="4.0" fill="#f9dc96" opacity="0.6" transform="rotate(0 104.0 178.0)"/>
<ellipse cx="74.3" cy="185.7" rx="2.5" ry="3.5" fill="#f9dc96" opacity="0.8" transform="rotate(0 74.3 185.7)"/>
<ellipse cx="141.1" cy="187.4" rx="3.0" ry="3.5" fill="#f9dc96" opacity="0.85" transform="rotate(0 141.1 187.4)"/>
<ellipse cx="158.9" cy="188.0" rx="2.2" ry="6.0" fill="#f9dc96" opacity="0.85" transform="rotate(0 158.9 188.0)"/>
<ellipse cx="188.0" cy="178.0" rx="5.0" ry="4.0" fill="#f9dc96" opacity="0.7" transform="rotate(0 188.0 178.0)"/>
<ellipse cx="68.0" cy="210.0" rx="7.0" ry="5.0" fill="#f9dc96" opacity="0.95" transform="rotate(0 68.0 210.0)"/>
<ellipse cx="60.0" cy="216.0" rx="5.0" ry="3.0" fill="#f9dc96" opacity="0.6" transform="rotate(0 60.0 216.0)"/>
<ellipse cx="56.0" cy="250.0" rx="7.0" ry="6.0" fill="#f9dc96" opacity="0.9" transform="rotate(0 56.0 250.0)"/>
<ellipse cx="102.8" cy="231.0" rx="2.5" ry="6.0" fill="#f9dc96" opacity="0.85" transform="rotate(0 102.8 231.0)"/>
<ellipse cx="167.0" cy="232.0" rx="12.0" ry="12.0" fill="#f9dc96" opacity="1.0" transform="rotate(0 167.0 232.0)"/>
<ellipse cx="190.0" cy="214.0" rx="3.0" ry="5.0" fill="#f9dc96" opacity="0.85" transform="rotate(0 190.0 214.0)"/>
<ellipse cx="136.0" cy="255.0" rx="2.5" ry="5.0" fill="#f9dc96" opacity="0.8" transform="rotate(0 136.0 255.0)"/>
</g>
<path d="M34.0,156.0 L57.4,156.0 L57.4,165.0 L58.3,182.0 L51.2,188.3 L34.0,187.4 Z" fill="none" stroke="#ffffff" stroke-width="0.8" stroke-linecap="round" stroke-dasharray="0.01 1.75" opacity="0.4"/>
<path d="M69.9,173.2 L82.3,191.9 L80.5,195.4 L71.7,197.2 L61.9,192.8 L62.8,182.1 Z" fill="none" stroke="#ffffff" stroke-width="0.8" stroke-linecap="round" stroke-dasharray="0.01 1.75" opacity="0.4"/>
<path d="M79.0,156.0 L79.7,168.0 L83.2,173.0 L93.9,184.0 L95.6,190.0 L108.0,191.0 L120.0,189.0 L120.0,156.0 Z" fill="none" stroke="#ffffff" stroke-width="0.8" stroke-linecap="round" stroke-dasharray="0.01 1.75" opacity="0.4"/>
<path d="M94.0,194.5 L97.4,193.7 L115.0,193.7 L120.0,196.0 L120.0,212.0 L100.0,213.0 L92.0,207.0 Z" fill="none" stroke="#ffffff" stroke-width="0.8" stroke-linecap="round" stroke-dasharray="0.01 1.75" opacity="0.4"/>
<path d="M40.6,210.5 L47.7,203.4 L61.9,199.0 L71.7,200.8 L79.7,210.5 L78.8,221.2 L70.8,229.2 L60.1,231.9 L47.7,231.0 L39.7,223.0 Z" fill="none" stroke="#ffffff" stroke-width="0.8" stroke-linecap="round" stroke-dasharray="0.01 1.75" opacity="0.4"/>
<path d="M90.3,217.6 L95.6,215.9 L103.6,217.6 L108.1,224.8 L108.1,237.2 L102.8,240.7 L92.1,237.2 L88.5,230.1 Z" fill="none" stroke="#ffffff" stroke-width="0.8" stroke-linecap="round" stroke-dasharray="0.01 1.75" opacity="0.4"/>
<path d="M34.0,235.0 L40.6,235.4 L56.5,237.2 L69.0,244.3 L71.7,251.4 L70.8,264.0 L34.0,264.0 Z" fill="none" stroke="#ffffff" stroke-width="0.8" stroke-linecap="round" stroke-dasharray="0.01 1.75" opacity="0.4"/>
<path d="M75.0,264.0 L79.7,248.0 L88.5,240.0 L97.4,240.7 L108.0,251.4 L110.0,264.0 Z" fill="none" stroke="#ffffff" stroke-width="0.8" stroke-linecap="round" stroke-dasharray="0.01 1.75" opacity="0.4"/>
<path d="M126.9,175.0 L128.7,185.7 L135.8,193.7 L144.7,192.8 L148.2,187.4 L146.4,176.8 L137.5,173.2 Z" fill="none" stroke="#ffffff" stroke-width="0.8" stroke-linecap="round" stroke-dasharray="0.01 1.75" opacity="0.4"/>
<path d="M148.2,176.8 L160.7,176.8 L169.5,178.5 L174.9,189.2 L169.5,197.2 L158.9,201.7 L149.1,194.5 L147.3,185.7 Z" fill="none" stroke="#ffffff" stroke-width="0.8" stroke-linecap="round" stroke-dasharray="0.01 1.75" opacity="0.4"/>
<path d="M176.6,198.1 L183.8,191.0 L196.2,189.2 L204.0,190.0 L204.0,227.0 L194.4,224.8 L182.0,226.5 L174.9,210.5 Z" fill="none" stroke="#ffffff" stroke-width="0.8" stroke-linecap="round" stroke-dasharray="0.01 1.75" opacity="0.4"/>
<path d="M144.7,235.4 L153.5,223.0 L164.2,217.6 L176.6,217.6 L185.5,228.3 L184.6,242.5 L174.9,249.6 L157.1,251.4 L146.4,244.3 Z" fill="none" stroke="#ffffff" stroke-width="0.8" stroke-linecap="round" stroke-dasharray="0.01 1.75" opacity="0.4"/>
<path d="M118.0,212.3 L130.4,212.3 L137.5,217.6 L141.1,226.5 L139.3,237.2 L130.4,242.5 L116.0,242.5 Z" fill="none" stroke="#ffffff" stroke-width="0.8" stroke-linecap="round" stroke-dasharray="0.01 1.75" opacity="0.4"/>
<path d="M132.2,196.3 L144.7,194.5 L160.7,201.7 L162.4,217.6 L151.8,223.0 L137.5,217.6 L132.2,208.8 Z" fill="none" stroke="#ffffff" stroke-width="0.8" stroke-linecap="round" stroke-dasharray="0.01 1.75" opacity="0.4"/>
<path d="M116.0,247.9 L132.2,247.9 L144.7,251.4 L148.2,264.0 L116.0,264.0 Z" fill="none" stroke="#ffffff" stroke-width="0.8" stroke-linecap="round" stroke-dasharray="0.01 1.75" opacity="0.4"/>
<rect x="147.70" y="159.30" width="53.30" height="17.00" fill="#eef4fa" opacity="0.75"/>
<text x="151.60" y="172.00" font-size="10.7" text-anchor="start" fill="#1a1a1a" >CsFAMA</text>
<rect x="173.90" y="256.20" width="23.50" height="2.00" fill="#ffffff"/>
</g>
<rect x="37.10" y="159.30" width="163.90" height="101.70" fill="none" stroke="#9a9a9a" stroke-width="0.5" opacity="0.6"/>
<circle cx="102.8" cy="171.6" r="6.7" fill="none" stroke="#1a1a1a" stroke-width="1.0" stroke-dasharray="1.9 1.2"/>
<text x="102.8" y="174.8" font-size="9.6" text-anchor="middle" fill="#1a1a1a">1</text>
<circle cx="104.1" cy="202.8" r="6.7" fill="none" stroke="#1a1a1a" stroke-width="1.0" stroke-dasharray="1.9 1.2"/>
<text x="104.1" y="206.0" font-size="9.6" text-anchor="middle" fill="#1a1a1a">2</text>
<circle cx="127.8" cy="228.3" r="6.7" fill="none" stroke="#1a1a1a" stroke-width="1.0" stroke-dasharray="1.9 1.2"/>
<text x="127.8" y="231.5" font-size="9.6" text-anchor="middle" fill="#1a1a1a">3</text>
<clipPath id="ce"><rect x="267.20" y="159.30" width="169.30" height="101.00"/></clipPath>
<g clip-path="url(#ce)">
<rect x="267.20" y="159.30" width="169.30" height="101.00" fill="#abcde8"/>
<g filter="url(#bl32)">
<path d="M277.7,177.0 L286.6,169.7 L297.0,169.7 L302.6,177.0 L300.0,184.0 L285.0,185.7 L279.0,182.0 Z" fill="#f8e6c2" opacity="0.95"/>
<path d="M303.5,167.0 L320.3,167.0 L320.3,181.0 L308.0,182.1 Z" fill="#f2eedc" opacity="0.95"/>
<path d="M320.3,170.0 L334.0,168.0 L341.7,176.0 L338.0,187.4 L322.0,186.0 Z" fill="#f8dca4" opacity="0.95"/>
<path d="M291.9,189.4 L302.6,185.7 L320.0,187.5 L324.0,194.5 L318.6,200.0 L299.0,200.0 L290.0,197.0 Z" fill="#f8dcaa" opacity="0.95"/>
<path d="M290.0,214.0 L298.0,208.8 L311.5,210.0 L313.0,220.0 L304.0,224.8 L292.0,222.0 Z" fill="#f8dcaa" opacity="0.95"/>
<path d="M264.0,214.0 L280.0,212.3 L290.0,222.0 L290.0,245.0 L280.0,251.5 L264.0,251.5 Z" fill="#f8e6c2" opacity="0.95"/>
<path d="M318.6,210.0 L328.0,201.7 L345.0,202.0 L352.0,212.0 L350.0,230.0 L336.0,234.0 L322.0,228.0 Z" fill="#f2eedc" opacity="0.95"/>
<path d="M313.0,240.0 L325.0,235.5 L338.0,238.0 L338.0,249.0 L322.0,251.5 L314.0,248.0 Z" fill="#f8e6c2" opacity="0.95"/>
<path d="M351.0,180.0 L362.0,175.0 L372.3,182.0 L372.0,197.0 L362.0,200.5 L351.0,198.0 Z" fill="#f8dcaa" opacity="0.95"/>
<path d="M376.0,182.0 L386.0,176.8 L395.4,182.0 L394.0,194.0 L381.0,196.3 L376.0,190.0 Z" fill="#f2eedc" opacity="0.95"/>
<path d="M413.0,183.0 L428.0,178.5 L440.0,180.0 L440.0,198.0 L418.0,198.0 L413.0,192.0 Z" fill="#f8e6c2" opacity="0.95"/>
<path d="M397.2,212.0 L407.0,203.4 L422.0,204.0 L429.2,212.0 L425.0,224.7 L405.0,224.7 L398.0,219.0 Z" fill="#f8dcaa" opacity="0.95"/>
<path d="M356.3,245.0 L362.0,232.0 L372.0,230.0 L383.0,237.0 L381.0,252.0 L370.0,258.5 L358.0,256.0 Z" fill="#f8dcaa" opacity="0.95"/>
<path d="M393.6,240.0 L402.0,230.0 L416.0,231.0 L422.0,242.0 L416.0,251.4 L398.0,251.0 Z" fill="#f8e6c2" opacity="0.95"/>
<path d="M361.7,215.0 L370.0,210.5 L377.0,214.0 L375.0,223.0 L364.0,222.5 Z" fill="#f2eedc" opacity="0.95"/>
<path d="M380.0,208.0 L388.0,204.0 L394.0,209.0 L392.0,219.0 L382.0,219.0 Z" fill="#f2eedc" opacity="0.95"/>
<path d="M424.0,236.0 L440.0,232.0 L440.0,264.0 L424.0,264.0 Z" fill="#f8dcac" opacity="0.95"/>
<path d="M264.0,156.0 L440.0,156.0 L440.0,164.0 L264.0,164.0 Z" fill="#eaf0f2" opacity="0.95"/>
<path d="M294.0,156.0 L320.0,156.0 L320.0,163.5 L294.0,163.5 Z" fill="#f8d898" opacity="0.95"/>
<ellipse cx="275.0" cy="163.0" rx="10.0" ry="5.0" fill="#a4c8e6" opacity="0.7" transform="rotate(0 275.0 163.0)"/>
<ellipse cx="332.0" cy="192.0" rx="8.0" ry="9.0" fill="#8cb6dc" opacity="0.8" transform="rotate(0 332.0 192.0)"/>
<ellipse cx="306.0" cy="236.0" rx="6.0" ry="7.0" fill="#8cb6dc" opacity="0.8" transform="rotate(0 306.0 236.0)"/>
<ellipse cx="274.0" cy="198.0" rx="5.0" ry="8.0" fill="#8cb6dc" opacity="0.6" transform="rotate(0 274.0 198.0)"/>
<ellipse cx="428.0" cy="204.0" rx="9.0" ry="5.0" fill="#8cb6dc" opacity="0.7" transform="rotate(0 428.0 204.0)"/>
<ellipse cx="385.0" cy="230.0" rx="8.0" ry="5.0" fill="#a4c8e6" opacity="0.8" transform="rotate(0 385.0 230.0)"/>
<ellipse cx="356.0" cy="206.0" rx="5.0" ry="5.0" fill="#a4c8e6" opacity="0.7" transform="rotate(0 356.0 206.0)"/>
<ellipse cx="345.0" cy="240.0" rx="5.0" ry="7.0" fill="#b8d6ec" opacity="0.7" transform="rotate(0 345.0 240.0)"/>
<ellipse cx="300.0" cy="256.0" rx="15.0" ry="4.0" fill="#d8eaf2" opacity="0.7" transform="rotate(0 300.0 256.0)"/>
<ellipse cx="305.0" cy="193.0" rx="14.0" ry="5.5" fill="#f8c67e" opacity="1.0" transform="rotate(0 305.0 193.0)"/>
<ellipse cx="302.0" cy="216.0" rx="9.0" ry="4.5" fill="#f8c67e" opacity="0.95" transform="rotate(0 302.0 216.0)"/>
<ellipse cx="361.5" cy="189.0" rx="9.0" ry="8.0" fill="#f8c67e" opacity="1.0" transform="rotate(0 361.5 189.0)"/>
<ellipse cx="415.0" cy="215.0" rx="13.0" ry="5.0" fill="#f8c67e" opacity="1.0" transform="rotate(0 415.0 215.0)"/>
<ellipse cx="369.0" cy="244.0" rx="9.0" ry="12.0" fill="#f8c67e" opacity="1.0" transform="rotate(25 369.0 244.0)"/>
<ellipse cx="305.0" cy="193.0" rx="9.0" ry="4.0" fill="#f4aa5c" opacity="0.85" transform="rotate(0 305.0 193.0)"/>
<ellipse cx="302.0" cy="216.0" rx="6.0" ry="3.5" fill="#f4aa5c" opacity="0.6" transform="rotate(0 302.0 216.0)"/>
<ellipse cx="361.5" cy="190.0" rx="7.0" ry="6.0" fill="#f4aa5c" opacity="0.9" transform="rotate(0 361.5 190.0)"/>
<ellipse cx="416.0" cy="216.0" rx="9.0" ry="3.5" fill="#f4aa5c" opacity="0.8" transform="rotate(0 416.0 216.0)"/>
<ellipse cx="369.0" cy="244.0" rx="6.0" ry="9.0" fill="#f4aa5c" opacity="0.8" transform="rotate(25 369.0 244.0)"/>
<ellipse cx="330.0" cy="177.0" rx="6.0" ry="5.0" fill="#f8d898" opacity="0.7" transform="rotate(0 330.0 177.0)"/>
<ellipse cx="276.0" cy="240.0" rx="10.0" ry="3.0" fill="#f8d898" opacity="0.8" transform="rotate(0 276.0 240.0)"/>
</g>
<path d="M277.7,177.0 L286.6,169.7 L297.0,169.7 L302.6,177.0 L300.0,184.0 L285.0,185.7 L279.0,182.0 Z" fill="none" stroke="#ffffff" stroke-width="0.8" stroke-linecap="round" stroke-dasharray="0.01 1.75" opacity="0.4"/>
<path d="M303.5,167.0 L320.3,167.0 L320.3,181.0 L308.0,182.1 Z" fill="none" stroke="#ffffff" stroke-width="0.8" stroke-linecap="round" stroke-dasharray="0.01 1.75" opacity="0.4"/>
<path d="M320.3,170.0 L334.0,168.0 L341.7,176.0 L338.0,187.4 L322.0,186.0 Z" fill="none" stroke="#ffffff" stroke-width="0.8" stroke-linecap="round" stroke-dasharray="0.01 1.75" opacity="0.4"/>
<path d="M291.9,189.4 L302.6,185.7 L320.0,187.5 L324.0,194.5 L318.6,200.0 L299.0,200.0 L290.0,197.0 Z" fill="none" stroke="#ffffff" stroke-width="0.8" stroke-linecap="round" stroke-dasharray="0.01 1.75" opacity="0.4"/>
<path d="M290.0,214.0 L298.0,208.8 L311.5,210.0 L313.0,220.0 L304.0,224.8 L292.0,222.0 Z" fill="none" stroke="#ffffff" stroke-width="0.8" stroke-linecap="round" stroke-dasharray="0.01 1.75" opacity="0.4"/>
<path d="M264.0,214.0 L280.0,212.3 L290.0,222.0 L290.0,245.0 L280.0,251.5 L264.0,251.5 Z" fill="none" stroke="#ffffff" stroke-width="0.8" stroke-linecap="round" stroke-dasharray="0.01 1.75" opacity="0.4"/>
<path d="M318.6,210.0 L328.0,201.7 L345.0,202.0 L352.0,212.0 L350.0,230.0 L336.0,234.0 L322.0,228.0 Z" fill="none" stroke="#ffffff" stroke-width="0.8" stroke-linecap="round" stroke-dasharray="0.01 1.75" opacity="0.4"/>
<path d="M313.0,240.0 L325.0,235.5 L338.0,238.0 L338.0,249.0 L322.0,251.5 L314.0,248.0 Z" fill="none" stroke="#ffffff" stroke-width="0.8" stroke-linecap="round" stroke-dasharray="0.01 1.75" opacity="0.4"/>
<path d="M351.0,180.0 L362.0,175.0 L372.3,182.0 L372.0,197.0 L362.0,200.5 L351.0,198.0 Z" fill="none" stroke="#ffffff" stroke-width="0.8" stroke-linecap="round" stroke-dasharray="0.01 1.75" opacity="0.4"/>
<path d="M376.0,182.0 L386.0,176.8 L395.4,182.0 L394.0,194.0 L381.0,196.3 L376.0,190.0 Z" fill="none" stroke="#ffffff" stroke-width="0.8" stroke-linecap="round" stroke-dasharray="0.01 1.75" opacity="0.4"/>
<path d="M413.0,183.0 L428.0,178.5 L440.0,180.0 L440.0,198.0 L418.0,198.0 L413.0,192.0 Z" fill="none" stroke="#ffffff" stroke-width="0.8" stroke-linecap="round" stroke-dasharray="0.01 1.75" opacity="0.4"/>
<path d="M397.2,212.0 L407.0,203.4 L422.0,204.0 L429.2,212.0 L425.0,224.7 L405.0,224.7 L398.0,219.0 Z" fill="none" stroke="#ffffff" stroke-width="0.8" stroke-linecap="round" stroke-dasharray="0.01 1.75" opacity="0.4"/>
<path d="M356.3,245.0 L362.0,232.0 L372.0,230.0 L383.0,237.0 L381.0,252.0 L370.0,258.5 L358.0,256.0 Z" fill="none" stroke="#ffffff" stroke-width="0.8" stroke-linecap="round" stroke-dasharray="0.01 1.75" opacity="0.4"/>
<path d="M393.6,240.0 L402.0,230.0 L416.0,231.0 L422.0,242.0 L416.0,251.4 L398.0,251.0 Z" fill="none" stroke="#ffffff" stroke-width="0.8" stroke-linecap="round" stroke-dasharray="0.01 1.75" opacity="0.4"/>
<path d="M361.7,215.0 L370.0,210.5 L377.0,214.0 L375.0,223.0 L364.0,222.5 Z" fill="none" stroke="#ffffff" stroke-width="0.8" stroke-linecap="round" stroke-dasharray="0.01 1.75" opacity="0.4"/>
<path d="M380.0,208.0 L388.0,204.0 L394.0,209.0 L392.0,219.0 L382.0,219.0 Z" fill="none" stroke="#ffffff" stroke-width="0.8" stroke-linecap="round" stroke-dasharray="0.01 1.75" opacity="0.4"/>
<rect x="336.70" y="159.30" width="99.80" height="17.10" fill="#eef5fa" opacity="0.75"/>
<text x="340.60" y="172.00" font-size="10.7" text-anchor="start" fill="#1a1a1a" >3F-PEA / CsFAMA</text>
<rect x="407.00" y="256.00" width="23.10" height="1.80" fill="#ffffff"/>
</g>
<rect x="267.20" y="159.30" width="169.30" height="101.00" fill="none" stroke="#9a9a9a" stroke-width="0.5" opacity="0.6"/>
<circle cx="356.3" cy="184.6" r="6.7" fill="none" stroke="#1a1a1a" stroke-width="1.0" stroke-dasharray="1.9 1.2"/>
<text x="356.3" y="187.8" font-size="9.6" text-anchor="middle" fill="#1a1a1a">1</text>
<circle cx="332.1" cy="217.8" r="6.7" fill="none" stroke="#1a1a1a" stroke-width="1.0" stroke-dasharray="1.9 1.2"/>
<text x="332.1" y="221.0" font-size="9.6" text-anchor="middle" fill="#1a1a1a">2</text>
<circle cx="386.8" cy="212.2" r="6.7" fill="none" stroke="#1a1a1a" stroke-width="1.0" stroke-dasharray="1.9 1.2"/>
<text x="386.8" y="215.4" font-size="9.6" text-anchor="middle" fill="#1a1a1a">3</text>
<clipPath id="cf"><rect x="503.00" y="160.40" width="169.60" height="101.10"/></clipPath>
<g clip-path="url(#cf)">
<rect x="503.00" y="160.40" width="169.60" height="101.10" fill="#fadca4"/>
<g filter="url(#bl25)">
<ellipse cx="512.0" cy="168.0" rx="12.0" ry="10.0" fill="#f8d6a4" opacity="0.9" transform="rotate(0 512.0 168.0)"/>
<ellipse cx="530.0" cy="195.0" rx="5.0" ry="12.0" fill="#dfecf0" opacity="0.9" transform="rotate(-35 530.0 195.0)"/>
<ellipse cx="540.0" cy="210.0" rx="4.0" ry="10.0" fill="#dfecf0" opacity="0.9" transform="rotate(-20 540.0 210.0)"/>
<ellipse cx="544.0" cy="235.0" rx="3.5" ry="24.0" fill="#dfecf0" opacity="0.85" transform="rotate(0 544.0 235.0)"/>
<ellipse cx="520.0" cy="215.0" rx="5.0" ry="10.0" fill="#eaf0ec" opacity="0.6" transform="rotate(0 520.0 215.0)"/>
<ellipse cx="639.0" cy="218.0" rx="4.0" ry="11.0" fill="#dfecf0" opacity="0.9" transform="rotate(-40 639.0 218.0)"/>
<ellipse cx="643.0" cy="226.0" rx="3.0" ry="6.0" fill="#dfecf0" opacity="0.9" transform="rotate(0 643.0 226.0)"/>
<ellipse cx="601.0" cy="253.0" rx="4.0" ry="8.0" fill="#dfecf0" opacity="0.8" transform="rotate(0 601.0 253.0)"/>
<ellipse cx="510.0" cy="200.0" rx="5.0" ry="8.0" fill="#eef0e8" opacity="0.5" transform="rotate(0 510.0 200.0)"/>
<ellipse cx="590.0" cy="195.0" rx="10.0" ry="4.0" fill="#f4eee0" opacity="0.5" transform="rotate(0 590.0 195.0)"/>
<ellipse cx="622.0" cy="183.0" rx="8.0" ry="4.0" fill="#f6ecdc" opacity="0.5" transform="rotate(0 622.0 183.0)"/>
<ellipse cx="560.0" cy="224.0" rx="12.0" ry="14.0" fill="#f6c084" opacity="0.95" transform="rotate(0 560.0 224.0)"/>
<ellipse cx="553.0" cy="218.0" rx="3.0" ry="8.0" fill="#f2a66a" opacity="0.7" transform="rotate(0 553.0 218.0)"/>
<ellipse cx="568.0" cy="224.0" rx="3.0" ry="9.0" fill="#f2a66a" opacity="0.7" transform="rotate(0 568.0 224.0)"/>
<ellipse cx="582.0" cy="227.0" rx="6.0" ry="10.0" fill="#f6c084" opacity="0.95" transform="rotate(0 582.0 227.0)"/>
<ellipse cx="591.0" cy="229.0" rx="4.0" ry="9.0" fill="#f6c084" opacity="0.9" transform="rotate(0 591.0 229.0)"/>
<ellipse cx="619.0" cy="220.0" rx="8.0" ry="5.0" fill="#f6c084" opacity="0.85" transform="rotate(0 619.0 220.0)"/>
<ellipse cx="653.0" cy="197.0" rx="5.0" ry="12.0" fill="#f6c084" opacity="0.95" transform="rotate(0 653.0 197.0)"/>
<ellipse cx="653.0" cy="197.0" rx="2.5" ry="8.0" fill="#f2a66a" opacity="0.6" transform="rotate(0 653.0 197.0)"/>
<ellipse cx="660.0" cy="232.0" rx="5.0" ry="7.0" fill="#f6c084" opacity="0.8" transform="rotate(0 660.0 232.0)"/>
<ellipse cx="530.0" cy="258.0" rx="9.0" ry="5.0" fill="#f6c084" opacity="0.9" transform="rotate(0 530.0 258.0)"/>
<ellipse cx="560.0" cy="258.0" rx="10.0" ry="4.0" fill="#f8cc98" opacity="0.8" transform="rotate(0 560.0 258.0)"/>
<ellipse cx="592.0" cy="211.0" rx="8.0" ry="4.0" fill="#f8ce98" opacity="0.7" transform="rotate(0 592.0 211.0)"/>
<ellipse cx="665.0" cy="215.0" rx="5.0" ry="6.0" fill="#f8d0a0" opacity="0.7" transform="rotate(0 665.0 215.0)"/>
<ellipse cx="620.0" cy="245.0" rx="10.0" ry="6.0" fill="#f8d4a4" opacity="0.6" transform="rotate(0 620.0 245.0)"/>
<ellipse cx="575.0" cy="200.0" rx="6.0" ry="5.0" fill="#f8cc94" opacity="0.7" transform="rotate(0 575.0 200.0)"/>
</g>
<path d="M510.4,184.8 L522.9,174.9 L540.2,177.4 L540.2,197.2 L517.9,194.7 Z" fill="none" stroke="#ffffff" stroke-width="0.8" stroke-linecap="round" stroke-dasharray="0.01 1.75" opacity="0.4"/>
<path d="M542.7,182.3 L560.1,177.4 L572.5,179.9 L575.0,194.7 L562.6,202.2 L545.2,199.7 Z" fill="none" stroke="#ffffff" stroke-width="0.8" stroke-linecap="round" stroke-dasharray="0.01 1.75" opacity="0.4"/>
<path d="M503.0,207.1 L515.4,207.1 L522.9,217.1 L517.9,227.0 L503.0,227.0 Z" fill="none" stroke="#ffffff" stroke-width="0.8" stroke-linecap="round" stroke-dasharray="0.01 1.75" opacity="0.4"/>
<path d="M508.0,241.9 L515.4,224.5 L535.3,218.3 L537.7,241.9 L522.9,246.8 Z" fill="none" stroke="#ffffff" stroke-width="0.8" stroke-linecap="round" stroke-dasharray="0.01 1.75" opacity="0.4"/>
<path d="M542.7,222.0 L550.1,212.1 L567.5,209.6 L577.4,219.6 L572.5,232.0 L562.6,244.4 L547.7,241.9 Z" fill="none" stroke="#ffffff" stroke-width="0.8" stroke-linecap="round" stroke-dasharray="0.01 1.75" opacity="0.4"/>
<path d="M577.4,219.6 L584.9,212.1 L594.8,214.6 L597.3,232.0 L584.9,236.9 L577.4,232.0 Z" fill="none" stroke="#ffffff" stroke-width="0.8" stroke-linecap="round" stroke-dasharray="0.01 1.75" opacity="0.4"/>
<path d="M587.4,209.6 L594.8,194.7 L609.7,187.3 L619.6,192.3 L618.4,209.6 L602.3,214.6 Z" fill="none" stroke="#ffffff" stroke-width="0.8" stroke-linecap="round" stroke-dasharray="0.01 1.75" opacity="0.4"/>
<path d="M599.8,219.6 L619.6,214.6 L632.0,222.0 L637.0,234.4 L627.1,246.8 L609.7,254.3 L602.3,241.9 Z" fill="none" stroke="#ffffff" stroke-width="0.8" stroke-linecap="round" stroke-dasharray="0.01 1.75" opacity="0.4"/>
<path d="M629.6,187.3 L637.0,182.3 L666.8,179.9 L664.3,202.2 L651.9,219.6 L632.0,217.1 L627.1,204.7 Z" fill="none" stroke="#ffffff" stroke-width="0.8" stroke-linecap="round" stroke-dasharray="0.01 1.75" opacity="0.4"/>
<path d="M639.5,239.4 L651.9,232.0 L673.0,229.5 L673.0,262.0 L642.0,262.0 Z" fill="none" stroke="#ffffff" stroke-width="0.8" stroke-linecap="round" stroke-dasharray="0.01 1.75" opacity="0.4"/>
<path d="M567.5,251.8 L577.4,243.1 L599.8,241.9 L609.7,254.3 L609.7,262.0 L565.0,262.0 Z" fill="none" stroke="#ffffff" stroke-width="0.8" stroke-linecap="round" stroke-dasharray="0.01 1.75" opacity="0.4"/>
<path d="M503.0,254.3 L517.9,250.6 L535.3,251.8 L537.7,262.0 L503.0,262.0 Z" fill="none" stroke="#ffffff" stroke-width="0.8" stroke-linecap="round" stroke-dasharray="0.01 1.75" opacity="0.4"/>
<rect x="538.50" y="160.40" width="134.10" height="17.40" fill="#fcf2dc" opacity="0.75"/>
<text x="541.60" y="173.40" font-size="10.7" text-anchor="start" fill="#1a1a1a" >DMS + 3F-PEA / CsFAMA</text>
<rect x="643.10" y="256.00" width="23.70" height="2.00" fill="#ffffff"/>
</g>
<rect x="503.00" y="160.40" width="169.60" height="101.10" fill="none" stroke="#9a9a9a" stroke-width="0.5" opacity="0.6"/>
<circle cx="558.8" cy="184.8" r="6.7" fill="none" stroke="#1a1a1a" stroke-width="1.0" stroke-dasharray="1.9 1.2"/>
<text x="558.8" y="188.0" font-size="9.6" text-anchor="middle" fill="#1a1a1a">1</text>
<circle cx="602.8" cy="202.4" r="6.7" fill="none" stroke="#1a1a1a" stroke-width="1.0" stroke-dasharray="1.9 1.2"/>
<text x="602.8" y="205.6" font-size="9.6" text-anchor="middle" fill="#1a1a1a">2</text>
<circle cx="617.5" cy="233.6" r="6.7" fill="none" stroke="#1a1a1a" stroke-width="1.0" stroke-dasharray="1.9 1.2"/>
<text x="617.5" y="236.8" font-size="9.6" text-anchor="middle" fill="#1a1a1a">3</text>
<rect x="19.40" y="290.30" width="183.10" height="67.00" fill="none" stroke="#808080" stroke-width="0.8"/>
<line x1="19.40" y1="357.30" x2="202.50" y2="357.30" stroke="#4d4d4d" stroke-width="0.9"/>
<line x1="19.40" y1="290.30" x2="19.40" y2="357.30" stroke="#4d4d4d" stroke-width="0.9"/>
<line x1="19.40" y1="357.30" x2="19.40" y2="359.10" stroke="#4d4d4d" stroke-width="0.9"/>
<text x="19.40" y="368.40" font-size="9.7" text-anchor="middle" fill="#1a1a1a" >-0.45</text>
<line x1="65.17" y1="357.30" x2="65.17" y2="359.10" stroke="#4d4d4d" stroke-width="0.9"/>
<text x="65.17" y="368.40" font-size="9.7" text-anchor="middle" fill="#1a1a1a" >-0.40</text>
<line x1="110.95" y1="357.30" x2="110.95" y2="359.10" stroke="#4d4d4d" stroke-width="0.9"/>
<text x="110.95" y="368.40" font-size="9.7" text-anchor="middle" fill="#1a1a1a" >-0.35</text>
<line x1="156.72" y1="357.30" x2="156.72" y2="359.10" stroke="#4d4d4d" stroke-width="0.9"/>
<text x="156.72" y="368.40" font-size="9.7" text-anchor="middle" fill="#1a1a1a" >-0.30</text>
<line x1="202.50" y1="357.30" x2="202.50" y2="359.10" stroke="#4d4d4d" stroke-width="0.9"/>
<text x="202.50" y="368.40" font-size="9.7" text-anchor="middle" fill="#1a1a1a" >-0.25</text>
<text x="110.95" y="380.40" font-size="9.7" text-anchor="middle" fill="#1a1a1a" >CPD (V)</text>
<text x="0" y="0" font-size="9.7" text-anchor="middle" fill="#1a1a1a" transform="translate(11.90,323.80) rotate(-90)">Counts</text>
<path d="M56.28,357.05 L56.59,357.01 L56.90,356.96 L57.21,356.91 L57.52,356.85 L57.83,356.79 L58.14,356.71 L58.45,356.63 L58.76,356.53 L59.07,356.43 L59.39,356.31 L59.70,356.18 L60.01,356.03 L60.32,355.87 L60.63,355.70 L60.94,355.50 L61.25,355.29 L61.56,355.06 L61.87,354.81 L62.18,354.53 L62.49,354.24 L62.80,353.92 L63.11,353.58 L63.42,353.21 L63.73,352.82 L64.04,352.41 L64.35,351.96 L64.66,351.50 L64.97,351.00 L65.28,350.49 L65.59,349.95 L65.90,349.38 L66.21,348.80 L66.52,348.19 L66.83,347.56 L67.14,346.92 L67.45,346.27 L67.76,345.60 L68.07,344.92 L68.38,344.23 L68.69,343.54 L69.00,342.86 L69.31,342.17 L69.62,341.49 L69.94,340.83 L70.25,340.17 L70.56,339.54 L70.87,338.93 L71.18,338.35 L71.49,337.79 L71.80,337.27 L72.11,336.79 L72.42,336.35 L72.73,335.95 L73.04,335.60 L73.35,335.30 L73.66,335.05 L73.97,334.85 L74.28,334.71 L74.59,334.63 L74.90,334.60 L75.21,334.63 L75.52,334.71 L75.83,334.85 L76.14,335.05 L76.45,335.30 L76.76,335.60 L77.07,335.95 L77.38,336.35 L77.69,336.79 L78.00,337.27 L78.31,337.79 L78.62,338.35 L78.93,338.93 L79.24,339.54 L79.55,340.17 L79.86,340.83 L80.18,341.49 L80.49,342.17 L80.80,342.86 L81.11,343.54 L81.42,344.23 L81.73,344.92 L82.04,345.60 L82.35,346.27 L82.66,346.92 L82.97,347.56 L83.28,348.19 L83.59,348.80 L83.90,349.38 L84.21,349.95 L84.52,350.49 L84.83,351.00 L85.14,351.50 L85.45,351.96 L85.76,352.41 L86.07,352.82 L86.38,353.21 L86.69,353.58 L87.00,353.92 L87.31,354.24 L87.62,354.53 L87.93,354.81 L88.24,355.06 L88.55,355.29 L88.86,355.50 L89.17,355.70 L89.48,355.87 L89.79,356.03 L90.10,356.18 L90.41,356.31 L90.73,356.43 L91.04,356.53 L91.35,356.63 L91.66,356.71 L91.97,356.79 L92.28,356.85 L92.59,356.91 L92.90,356.96 L93.21,357.01 L93.52,357.05" fill="none" stroke="#8fb0df" stroke-width="0.9"/>
<path d="M108.07,357.05 L108.58,357.01 L109.09,356.97 L109.61,356.92 L110.12,356.86 L110.63,356.80 L111.14,356.73 L111.65,356.65 L112.16,356.56 L112.67,356.47 L113.18,356.36 L113.69,356.24 L114.20,356.11 L114.71,355.96 L115.22,355.81 L115.73,355.63 L116.24,355.44 L116.75,355.24 L117.26,355.02 L117.77,354.78 L118.28,354.52 L118.79,354.24 L119.30,353.94 L119.81,353.63 L120.32,353.29 L120.83,352.93 L121.35,352.55 L121.86,352.15 L122.37,351.74 L122.88,351.30 L123.39,350.84 L123.90,350.36 L124.41,349.87 L124.92,349.36 L125.43,348.84 L125.94,348.30 L126.45,347.76 L126.96,347.20 L127.47,346.64 L127.98,346.07 L128.49,345.50 L129.00,344.93 L129.51,344.37 L130.02,343.81 L130.53,343.27 L131.04,342.73 L131.55,342.22 L132.06,341.72 L132.57,341.24 L133.09,340.79 L133.60,340.37 L134.11,339.98 L134.62,339.62 L135.13,339.29 L135.64,339.01 L136.15,338.77 L136.66,338.56 L137.17,338.41 L137.68,338.29 L138.19,338.22 L138.70,338.20 L139.21,338.22 L139.72,338.29 L140.23,338.41 L140.74,338.56 L141.25,338.77 L141.76,339.01 L142.27,339.29 L142.78,339.62 L143.29,339.98 L143.80,340.37 L144.31,340.79 L144.83,341.24 L145.34,341.72 L145.85,342.22 L146.36,342.73 L146.87,343.27 L147.38,343.81 L147.89,344.37 L148.40,344.93 L148.91,345.50 L149.42,346.07 L149.93,346.64 L150.44,347.20 L150.95,347.76 L151.46,348.30 L151.97,348.84 L152.48,349.36 L152.99,349.87 L153.50,350.36 L154.01,350.84 L154.52,351.30 L155.03,351.74 L155.54,352.15 L156.05,352.55 L156.57,352.93 L157.08,353.29 L157.59,353.63 L158.10,353.94 L158.61,354.24 L159.12,354.52 L159.63,354.78 L160.14,355.02 L160.65,355.24 L161.16,355.44 L161.67,355.63 L162.18,355.81 L162.69,355.96 L163.20,356.11 L163.71,356.24 L164.22,356.36 L164.73,356.47 L165.24,356.56 L165.75,356.65 L166.26,356.73 L166.77,356.80 L167.28,356.86 L167.79,356.92 L168.31,356.97 L168.82,357.01 L169.33,357.05" fill="none" stroke="#8fb0df" stroke-width="0.9"/>
<path d="M149.85,357.05 L150.13,357.01 L150.40,356.96 L150.68,356.90 L150.95,356.84 L151.23,356.77 L151.50,356.69 L151.78,356.60 L152.06,356.50 L152.33,356.38 L152.61,356.25 L152.88,356.11 L153.16,355.94 L153.44,355.77 L153.71,355.57 L153.99,355.35 L154.26,355.11 L154.54,354.84 L154.81,354.56 L155.09,354.24 L155.37,353.90 L155.64,353.53 L155.92,353.14 L156.19,352.71 L156.47,352.25 L156.75,351.76 L157.02,351.24 L157.30,350.68 L157.57,350.10 L157.85,349.48 L158.12,348.83 L158.40,348.15 L158.68,347.45 L158.95,346.72 L159.23,345.96 L159.50,345.18 L159.78,344.38 L160.06,343.56 L160.33,342.73 L160.61,341.89 L160.88,341.04 L161.16,340.19 L161.43,339.35 L161.71,338.51 L161.99,337.68 L162.26,336.87 L162.54,336.08 L162.81,335.32 L163.09,334.59 L163.37,333.90 L163.64,333.25 L163.92,332.65 L164.19,332.09 L164.47,331.60 L164.74,331.16 L165.02,330.78 L165.30,330.47 L165.57,330.22 L165.85,330.04 L166.12,329.94 L166.40,329.90 L166.68,329.94 L166.95,330.04 L167.23,330.22 L167.50,330.47 L167.78,330.78 L168.06,331.16 L168.33,331.60 L168.61,332.09 L168.88,332.65 L169.16,333.25 L169.43,333.90 L169.71,334.59 L169.99,335.32 L170.26,336.08 L170.54,336.87 L170.81,337.68 L171.09,338.51 L171.37,339.35 L171.64,340.19 L171.92,341.04 L172.19,341.89 L172.47,342.73 L172.74,343.56 L173.02,344.38 L173.30,345.18 L173.57,345.96 L173.85,346.72 L174.12,347.45 L174.40,348.15 L174.68,348.83 L174.95,349.48 L175.23,350.10 L175.50,350.68 L175.78,351.24 L176.05,351.76 L176.33,352.25 L176.61,352.71 L176.88,353.14 L177.16,353.53 L177.43,353.90 L177.71,354.24 L177.99,354.56 L178.26,354.84 L178.54,355.11 L178.81,355.35 L179.09,355.57 L179.36,355.77 L179.64,355.94 L179.92,356.11 L180.19,356.25 L180.47,356.38 L180.74,356.50 L181.02,356.60 L181.30,356.69 L181.57,356.77 L181.85,356.84 L182.12,356.90 L182.40,356.96 L182.67,357.01 L182.95,357.05" fill="none" stroke="#8fb0df" stroke-width="0.9"/>
<path d="M20.40,356.67 L21.53,356.60 L22.66,356.52 L23.80,356.43 L24.93,356.34 L26.06,356.24 L27.19,356.13 L28.32,356.01 L29.45,355.88 L30.59,355.74 L31.72,355.59 L32.85,355.42 L33.98,355.25 L35.11,355.06 L36.25,354.86 L37.38,354.65 L38.51,354.42 L39.64,354.18 L40.77,353.92 L41.91,353.64 L43.04,353.36 L44.17,353.05 L45.30,352.73 L46.43,352.39 L47.56,352.04 L48.70,351.66 L49.83,351.27 L50.96,350.87 L52.09,350.45 L53.22,350.01 L54.36,349.55 L55.49,349.08 L56.62,348.59 L57.75,348.09 L58.88,347.57 L60.02,347.04 L61.15,346.50 L62.28,345.94 L63.41,345.37 L64.54,344.79 L65.67,344.21 L66.81,343.61 L67.94,343.01 L69.07,342.40 L70.20,341.78 L71.33,341.17 L72.47,340.55 L73.60,339.93 L74.73,339.31 L75.86,338.69 L76.99,338.08 L78.13,337.48 L79.26,336.88 L80.39,336.29 L81.52,335.71 L82.65,335.15 L83.78,334.59 L84.92,334.05 L86.05,333.53 L87.18,333.02 L88.31,332.53 L89.44,332.07 L90.58,331.62 L91.71,331.19 L92.84,330.79 L93.97,330.41 L95.10,330.05 L96.24,329.72 L97.37,329.41 L98.50,329.13 L99.63,328.87 L100.76,328.64 L101.89,328.43 L103.03,328.25 L104.16,328.09 L105.29,327.95 L106.42,327.84 L107.55,327.76 L108.69,327.69 L109.82,327.64 L110.95,327.61 L112.08,327.60 L113.21,327.60 L114.35,327.61 L115.48,327.62 L116.61,327.65 L117.74,327.69 L118.87,327.75 L120.00,327.82 L121.14,327.90 L122.27,328.01 L123.40,328.13 L124.53,328.26 L125.66,328.42 L126.80,328.59 L127.93,328.78 L129.06,328.99 L130.19,329.21 L131.32,329.46 L132.46,329.72 L133.59,330.00 L134.72,330.29 L135.85,330.60 L136.98,330.93 L138.11,331.28 L139.25,331.64 L140.38,332.02 L141.51,332.41 L142.64,332.82 L143.77,333.24 L144.91,333.67 L146.04,334.11 L147.17,334.57 L148.30,335.03 L149.43,335.51 L150.57,335.99 L151.70,336.48 L152.83,336.98 L153.96,337.48 L155.09,337.99 L156.22,338.51 L157.36,339.02 L158.49,339.54 L159.62,340.06 L160.75,340.59 L161.88,341.11 L163.02,341.63 L164.15,342.15 L165.28,342.66 L166.41,343.17 L167.54,343.68 L168.68,344.18 L169.81,344.68 L170.94,345.17 L172.07,345.65 L173.20,346.13 L174.34,346.59 L175.47,347.05 L176.60,347.50 L177.73,347.94 L178.86,348.37 L179.99,348.78 L181.13,349.19 L182.26,349.59 L183.39,349.97 L184.52,350.34 L185.65,350.70 L186.79,351.05 L187.92,351.39 L189.05,351.71 L190.18,352.03 L191.31,352.33 L192.45,352.61 L193.58,352.89 L194.71,353.16 L195.84,353.41 L196.97,353.65 L198.10,353.88 L199.24,354.10 L200.37,354.31 L201.50,354.51" fill="none" stroke="#4872bd" stroke-width="1.1"/>
<text x="154.60" y="305.30" font-size="10.7" text-anchor="start" fill="#1a1a1a" >CsFAMA</text>
<text x="89.40" y="314.20" font-size="9.3" text-anchor="start" fill="#1a1a1a" >Total (-0.34)</text>
<text x="50.40" y="330.40" font-size="9.5" text-anchor="start" fill="#1a1a1a" >1 (-0.39)</text>
<text x="156.60" y="328.00" font-size="9.5" text-anchor="start" fill="#1a1a1a" >2 (-0.29)</text>
<text x="96.20" y="347.60" font-size="9.5" text-anchor="start" fill="#1a1a1a" >3 (-0.32)</text>
<line x1="118.2" y1="326.6" x2="114.6" y2="317.6" stroke="#111" stroke-width="0.9" marker-end="url(#arr)"/>
<rect x="257.50" y="291.10" width="182.30" height="66.50" fill="none" stroke="#808080" stroke-width="0.8"/>
<line x1="257.50" y1="357.60" x2="439.80" y2="357.60" stroke="#4d4d4d" stroke-width="0.9"/>
<line x1="257.50" y1="291.10" x2="257.50" y2="357.60" stroke="#4d4d4d" stroke-width="0.9"/>
<line x1="257.50" y1="357.60" x2="257.50" y2="359.40" stroke="#4d4d4d" stroke-width="0.9"/>
<text x="257.50" y="368.70" font-size="9.7" text-anchor="middle" fill="#1a1a1a" >-0.45</text>
<line x1="303.07" y1="357.60" x2="303.07" y2="359.40" stroke="#4d4d4d" stroke-width="0.9"/>
<text x="303.07" y="368.70" font-size="9.7" text-anchor="middle" fill="#1a1a1a" >-0.40</text>
<line x1="348.65" y1="357.60" x2="348.65" y2="359.40" stroke="#4d4d4d" stroke-width="0.9"/>
<text x="348.65" y="368.70" font-size="9.7" text-anchor="middle" fill="#1a1a1a" >-0.35</text>
<line x1="394.23" y1="357.60" x2="394.23" y2="359.40" stroke="#4d4d4d" stroke-width="0.9"/>
<text x="394.23" y="368.70" font-size="9.7" text-anchor="middle" fill="#1a1a1a" >-0.30</text>
<line x1="439.80" y1="357.60" x2="439.80" y2="359.40" stroke="#4d4d4d" stroke-width="0.9"/>
<text x="439.80" y="368.70" font-size="9.7" text-anchor="middle" fill="#1a1a1a" >-0.25</text>
<text x="348.65" y="380.70" font-size="9.7" text-anchor="middle" fill="#1a1a1a" >CPD (V)</text>
<text x="0" y="0" font-size="9.7" text-anchor="middle" fill="#1a1a1a" transform="translate(249.90,324.35) rotate(-90)">Counts</text>
<path d="M262.18,357.35 L262.56,357.31 L262.94,357.26 L263.32,357.21 L263.70,357.15 L264.07,357.08 L264.45,357.00 L264.83,356.92 L265.21,356.82 L265.58,356.71 L265.96,356.59 L266.34,356.46 L266.72,356.31 L267.09,356.14 L267.47,355.96 L267.85,355.76 L268.23,355.54 L268.61,355.30 L268.98,355.04 L269.36,354.75 L269.74,354.44 L270.12,354.11 L270.49,353.75 L270.87,353.37 L271.25,352.96 L271.63,352.52 L272.00,352.06 L272.38,351.57 L272.76,351.05 L273.14,350.50 L273.51,349.93 L273.89,349.34 L274.27,348.72 L274.65,348.08 L275.03,347.41 L275.40,346.73 L275.78,346.04 L276.16,345.33 L276.54,344.61 L276.91,343.88 L277.29,343.15 L277.67,342.41 L278.05,341.68 L278.42,340.96 L278.80,340.25 L279.18,339.56 L279.56,338.88 L279.94,338.23 L280.31,337.61 L280.69,337.01 L281.07,336.46 L281.45,335.94 L281.82,335.47 L282.20,335.05 L282.58,334.67 L282.96,334.35 L283.33,334.08 L283.71,333.87 L284.09,333.72 L284.47,333.63 L284.85,333.60 L285.22,333.63 L285.60,333.72 L285.98,333.87 L286.36,334.08 L286.73,334.35 L287.11,334.67 L287.49,335.05 L287.87,335.47 L288.24,335.94 L288.62,336.46 L289.00,337.01 L289.38,337.61 L289.75,338.23 L290.13,338.88 L290.51,339.56 L290.89,340.25 L291.27,340.96 L291.64,341.68 L292.02,342.41 L292.40,343.15 L292.78,343.88 L293.15,344.61 L293.53,345.33 L293.91,346.04 L294.29,346.73 L294.66,347.41 L295.04,348.08 L295.42,348.72 L295.80,349.34 L296.18,349.93 L296.55,350.50 L296.93,351.05 L297.31,351.57 L297.69,352.06 L298.06,352.52 L298.44,352.96 L298.82,353.37 L299.20,353.75 L299.57,354.11 L299.95,354.44 L300.33,354.75 L300.71,355.04 L301.08,355.30 L301.46,355.54 L301.84,355.76 L302.22,355.96 L302.60,356.14 L302.97,356.31 L303.35,356.46 L303.73,356.59 L304.11,356.71 L304.48,356.82 L304.86,356.92 L305.24,357.00 L305.62,357.08 L305.99,357.15 L306.37,357.21 L306.75,357.26 L307.13,357.31 L307.51,357.35" fill="none" stroke="#a9cfec" stroke-width="0.9"/>
<path d="M302.33,357.35 L302.65,357.31 L302.96,357.26 L303.28,357.21 L303.60,357.14 L303.91,357.07 L304.23,356.99 L304.55,356.90 L304.86,356.80 L305.18,356.68 L305.49,356.55 L305.81,356.41 L306.13,356.25 L306.44,356.07 L306.76,355.88 L307.08,355.66 L307.39,355.42 L307.71,355.16 L308.02,354.88 L308.34,354.57 L308.66,354.23 L308.97,353.87 L309.29,353.47 L309.61,353.05 L309.92,352.60 L310.24,352.11 L310.55,351.60 L310.87,351.05 L311.19,350.47 L311.50,349.86 L311.82,349.22 L312.13,348.56 L312.45,347.86 L312.77,347.14 L313.08,346.39 L313.40,345.62 L313.72,344.84 L314.03,344.03 L314.35,343.21 L314.66,342.39 L314.98,341.55 L315.30,340.72 L315.61,339.88 L315.93,339.06 L316.25,338.25 L316.56,337.45 L316.88,336.68 L317.19,335.93 L317.51,335.21 L317.83,334.53 L318.14,333.89 L318.46,333.30 L318.78,332.76 L319.09,332.27 L319.41,331.84 L319.72,331.46 L320.04,331.16 L320.36,330.91 L320.67,330.74 L320.99,330.64 L321.31,330.60 L321.62,330.64 L321.94,330.74 L322.25,330.91 L322.57,331.16 L322.89,331.46 L323.20,331.84 L323.52,332.27 L323.83,332.76 L324.15,333.30 L324.47,333.89 L324.78,334.53 L325.10,335.21 L325.42,335.93 L325.73,336.68 L326.05,337.45 L326.36,338.25 L326.68,339.06 L327.00,339.88 L327.31,340.72 L327.63,341.55 L327.95,342.39 L328.26,343.21 L328.58,344.03 L328.89,344.84 L329.21,345.62 L329.53,346.39 L329.84,347.14 L330.16,347.86 L330.48,348.56 L330.79,349.22 L331.11,349.86 L331.42,350.47 L331.74,351.05 L332.06,351.60 L332.37,352.11 L332.69,352.60 L333.00,353.05 L333.32,353.47 L333.64,353.87 L333.95,354.23 L334.27,354.57 L334.59,354.88 L334.90,355.16 L335.22,355.42 L335.53,355.66 L335.85,355.88 L336.17,356.07 L336.48,356.25 L336.80,356.41 L337.12,356.55 L337.43,356.68 L337.75,356.80 L338.06,356.90 L338.38,356.99 L338.70,357.07 L339.01,357.14 L339.33,357.21 L339.65,357.26 L339.96,357.31 L340.28,357.35" fill="none" stroke="#a9cfec" stroke-width="0.9"/>
<path d="M331.10,357.35 L331.38,357.31 L331.66,357.26 L331.93,357.20 L332.21,357.14 L332.49,357.07 L332.76,356.98 L333.04,356.89 L333.32,356.79 L333.60,356.67 L333.87,356.53 L334.15,356.39 L334.43,356.22 L334.71,356.04 L334.98,355.83 L335.26,355.61 L335.54,355.36 L335.81,355.08 L336.09,354.79 L336.37,354.46 L336.65,354.11 L336.92,353.72 L337.20,353.31 L337.48,352.86 L337.76,352.38 L338.03,351.87 L338.31,351.33 L338.59,350.75 L338.86,350.14 L339.14,349.49 L339.42,348.81 L339.70,348.10 L339.97,347.36 L340.25,346.59 L340.53,345.79 L340.81,344.97 L341.08,344.12 L341.36,343.26 L341.64,342.39 L341.92,341.50 L342.19,340.60 L342.47,339.71 L342.75,338.81 L343.02,337.93 L343.30,337.05 L343.58,336.19 L343.86,335.36 L344.13,334.55 L344.41,333.78 L344.69,333.05 L344.97,332.36 L345.24,331.72 L345.52,331.13 L345.80,330.60 L346.07,330.14 L346.35,329.73 L346.63,329.40 L346.91,329.14 L347.18,328.95 L347.46,328.84 L347.74,328.80 L348.02,328.84 L348.29,328.95 L348.57,329.14 L348.85,329.40 L349.13,329.73 L349.40,330.14 L349.68,330.60 L349.96,331.13 L350.23,331.72 L350.51,332.36 L350.79,333.05 L351.07,333.78 L351.34,334.55 L351.62,335.36 L351.90,336.19 L352.18,337.05 L352.45,337.93 L352.73,338.81 L353.01,339.71 L353.28,340.60 L353.56,341.50 L353.84,342.39 L354.12,343.26 L354.39,344.12 L354.67,344.97 L354.95,345.79 L355.23,346.59 L355.50,347.36 L355.78,348.10 L356.06,348.81 L356.33,349.49 L356.61,350.14 L356.89,350.75 L357.17,351.33 L357.44,351.87 L357.72,352.38 L358.00,352.86 L358.28,353.31 L358.55,353.72 L358.83,354.11 L359.11,354.46 L359.39,354.79 L359.66,355.08 L359.94,355.36 L360.22,355.61 L360.49,355.83 L360.77,356.04 L361.05,356.22 L361.33,356.39 L361.60,356.53 L361.88,356.67 L362.16,356.79 L362.44,356.89 L362.71,356.98 L362.99,357.07 L363.27,357.14 L363.54,357.20 L363.82,357.26 L364.10,357.31 L364.38,357.35" fill="none" stroke="#a9cfec" stroke-width="0.9"/>
<path d="M258.50,355.96 L259.63,355.74 L260.75,355.50 L261.88,355.23 L263.01,354.94 L264.13,354.62 L265.26,354.28 L266.39,353.90 L267.51,353.49 L268.64,353.05 L269.77,352.57 L270.90,352.06 L272.02,351.51 L273.15,350.93 L274.28,350.31 L275.40,349.65 L276.53,348.96 L277.66,348.23 L278.78,347.46 L279.91,346.66 L281.04,345.82 L282.16,344.95 L283.29,344.05 L284.42,343.11 L285.55,342.15 L286.67,341.17 L287.80,340.16 L288.93,339.13 L290.05,338.08 L291.18,337.02 L292.31,335.95 L293.43,334.87 L294.56,333.79 L295.69,332.70 L296.81,331.63 L297.94,330.56 L299.07,329.50 L300.19,328.45 L301.32,327.43 L302.45,326.43 L303.57,325.45 L304.70,324.50 L305.83,323.59 L306.96,322.71 L308.08,321.87 L309.21,321.06 L310.34,320.31 L311.46,319.59 L312.59,318.92 L313.72,318.30 L314.84,317.72 L315.97,317.19 L317.10,316.71 L318.22,316.28 L319.35,315.90 L320.48,315.56 L321.61,315.27 L322.73,315.02 L323.86,314.81 L324.99,314.65 L326.11,314.52 L327.24,314.42 L328.37,314.36 L329.49,314.32 L330.62,314.30 L331.75,314.30 L332.87,314.31 L334.00,314.33 L335.13,314.38 L336.25,314.47 L337.38,314.59 L338.51,314.75 L339.63,314.95 L340.76,315.20 L341.89,315.50 L343.02,315.84 L344.14,316.24 L345.27,316.70 L346.40,317.21 L347.52,317.77 L348.65,318.38 L349.78,319.05 L350.90,319.77 L352.03,320.54 L353.16,321.36 L354.28,322.22 L355.41,323.13 L356.54,324.08 L357.67,325.07 L358.79,326.09 L359.92,327.15 L361.05,328.23 L362.17,329.33 L363.30,330.45 L364.43,331.58 L365.55,332.72 L366.68,333.86 L367.81,335.01 L368.93,336.15 L370.06,337.28 L371.19,338.40 L372.31,339.50 L373.44,340.58 L374.57,341.64 L375.69,342.67 L376.82,343.67 L377.95,344.64 L379.08,345.57 L380.20,346.47 L381.33,347.32 L382.46,348.14 L383.58,348.92 L384.71,349.65 L385.84,350.35 L386.96,351.00 L388.09,351.61 L389.22,352.18 L390.34,352.71 L391.47,353.20 L392.60,353.66 L393.73,354.08 L394.85,354.46 L395.98,354.81 L397.11,355.13 L398.23,355.42 L399.36,355.68 L400.49,355.92 L401.61,356.13 L402.74,356.32 L403.87,356.49 L404.99,356.64 L406.12,356.77 L407.25,356.89 L408.37,356.99 L409.50,357.08 L410.63,357.16 L411.75,357.22 L412.88,357.28 L414.01,357.33 L415.14,357.38 L416.26,357.41 L417.39,357.44 L418.52,357.47 L419.64,357.49 L420.77,357.51 L421.90,357.53 L423.02,357.54 L424.15,357.55 L425.28,357.56 L426.40,357.57 L427.53,357.57 L428.66,357.58 L429.79,357.58 L430.91,357.59 L432.04,357.59 L433.17,357.59 L434.29,357.59 L435.42,357.59 L436.55,357.60 L437.67,357.60 L438.80,357.60" fill="none" stroke="#7db3dd" stroke-width="1.0"/>
<text x="344.40" y="305.30" font-size="10.7" text-anchor="start" fill="#1a1a1a" >3F-PEA / CsFAMA</text>
<text x="287.80" y="308.00" font-size="9.5" text-anchor="start" fill="#1a1a1a" >Total (-0.37)</text>
<text x="262.20" y="328.00" font-size="9.5" text-anchor="start" fill="#1a1a1a" >1 (-0.42)</text>
<text x="309.40" y="331.10" font-size="9.5" text-anchor="start" fill="#1a1a1a" >2 (-0.38)</text>
<text x="361.80" y="328.40" font-size="9.5" text-anchor="start" fill="#1a1a1a" >3 (-0.35)</text>
<line x1="352.0" y1="333.8" x2="360.8" y2="327.0" stroke="#111" stroke-width="0.9" marker-end="url(#arr)"/>
<rect x="493.60" y="290.60" width="181.20" height="66.50" fill="none" stroke="#808080" stroke-width="0.8"/>
<line x1="493.60" y1="357.10" x2="674.80" y2="357.10" stroke="#4d4d4d" stroke-width="0.9"/>
<line x1="493.60" y1="290.60" x2="493.60" y2="357.10" stroke="#4d4d4d" stroke-width="0.9"/>
<line x1="493.60" y1="357.10" x2="493.60" y2="358.90" stroke="#4d4d4d" stroke-width="0.9"/>
<text x="493.60" y="368.40" font-size="9.7" text-anchor="middle" fill="#1a1a1a" >-0.45</text>
<line x1="538.90" y1="357.10" x2="538.90" y2="358.90" stroke="#4d4d4d" stroke-width="0.9"/>
<text x="538.90" y="368.40" font-size="9.7" text-anchor="middle" fill="#1a1a1a" >-0.40</text>
<line x1="584.20" y1="357.10" x2="584.20" y2="358.90" stroke="#4d4d4d" stroke-width="0.9"/>
<text x="584.20" y="368.40" font-size="9.7" text-anchor="middle" fill="#1a1a1a" >-0.35</text>
<line x1="629.50" y1="357.10" x2="629.50" y2="358.90" stroke="#4d4d4d" stroke-width="0.9"/>
<text x="629.50" y="368.40" font-size="9.7" text-anchor="middle" fill="#1a1a1a" >-0.30</text>
<line x1="674.80" y1="357.10" x2="674.80" y2="358.90" stroke="#4d4d4d" stroke-width="0.9"/>
<text x="674.80" y="368.40" font-size="9.7" text-anchor="middle" fill="#1a1a1a" >-0.25</text>
<text x="584.20" y="380.50" font-size="9.7" text-anchor="middle" fill="#1a1a1a" >CPD (V)</text>
<text x="0" y="0" font-size="9.7" text-anchor="middle" fill="#1a1a1a" transform="translate(486.30,323.85) rotate(-90)">Counts</text>
<path d="M507.86,356.85 L508.21,356.81 L508.57,356.77 L508.93,356.73 L509.29,356.68 L509.64,356.62 L510.00,356.56 L510.36,356.49 L510.71,356.41 L511.07,356.32 L511.43,356.23 L511.79,356.12 L512.14,356.01 L512.50,355.89 L512.86,355.75 L513.22,355.61 L513.57,355.45 L513.93,355.27 L514.29,355.09 L514.65,354.89 L515.00,354.68 L515.36,354.45 L515.72,354.21 L516.08,353.95 L516.43,353.68 L516.79,353.39 L517.15,353.09 L517.51,352.77 L517.86,352.44 L518.22,352.10 L518.58,351.74 L518.94,351.37 L519.29,350.98 L519.65,350.59 L520.01,350.18 L520.36,349.77 L520.72,349.35 L521.08,348.93 L521.44,348.50 L521.79,348.07 L522.15,347.64 L522.51,347.21 L522.87,346.79 L523.22,346.37 L523.58,345.96 L523.94,345.56 L524.30,345.17 L524.65,344.80 L525.01,344.45 L525.37,344.11 L525.73,343.80 L526.08,343.51 L526.44,343.24 L526.80,343.01 L527.16,342.80 L527.51,342.62 L527.87,342.47 L528.23,342.35 L528.59,342.27 L528.94,342.22 L529.30,342.20 L529.66,342.22 L530.01,342.27 L530.37,342.35 L530.73,342.47 L531.09,342.62 L531.44,342.80 L531.80,343.01 L532.16,343.24 L532.52,343.51 L532.87,343.80 L533.23,344.11 L533.59,344.45 L533.95,344.80 L534.30,345.17 L534.66,345.56 L535.02,345.96 L535.38,346.37 L535.73,346.79 L536.09,347.21 L536.45,347.64 L536.81,348.07 L537.16,348.50 L537.52,348.93 L537.88,349.35 L538.24,349.77 L538.59,350.18 L538.95,350.59 L539.31,350.98 L539.66,351.37 L540.02,351.74 L540.38,352.10 L540.74,352.44 L541.09,352.77 L541.45,353.09 L541.81,353.39 L542.17,353.68 L542.52,353.95 L542.88,354.21 L543.24,354.45 L543.60,354.68 L543.95,354.89 L544.31,355.09 L544.67,355.27 L545.03,355.45 L545.38,355.61 L545.74,355.75 L546.10,355.89 L546.46,356.01 L546.81,356.12 L547.17,356.23 L547.53,356.32 L547.89,356.41 L548.24,356.49 L548.60,356.56 L548.96,356.62 L549.31,356.68 L549.67,356.73 L550.03,356.77 L550.39,356.81 L550.74,356.85" fill="none" stroke="#f8b595" stroke-width="0.9"/>
<path d="M511.57,356.85 L511.93,356.81 L512.30,356.77 L512.66,356.72 L513.02,356.67 L513.39,356.61 L513.75,356.54 L514.11,356.47 L514.48,356.38 L514.84,356.29 L515.21,356.19 L515.57,356.07 L515.93,355.95 L516.30,355.81 L516.66,355.67 L517.03,355.50 L517.39,355.33 L517.75,355.14 L518.12,354.93 L518.48,354.71 L518.84,354.47 L519.21,354.21 L519.57,353.94 L519.94,353.65 L520.30,353.34 L520.66,353.01 L521.03,352.66 L521.39,352.30 L521.76,351.92 L522.12,351.52 L522.48,351.10 L522.85,350.67 L523.21,350.22 L523.58,349.76 L523.94,349.29 L524.30,348.81 L524.67,348.32 L525.03,347.82 L525.39,347.31 L525.76,346.80 L526.12,346.30 L526.49,345.79 L526.85,345.28 L527.21,344.79 L527.58,344.30 L527.94,343.82 L528.31,343.36 L528.67,342.92 L529.03,342.50 L529.40,342.10 L529.76,341.72 L530.13,341.37 L530.49,341.06 L530.85,340.77 L531.22,340.52 L531.58,340.30 L531.94,340.12 L532.31,339.98 L532.67,339.88 L533.04,339.82 L533.40,339.80 L533.76,339.82 L534.13,339.88 L534.49,339.98 L534.86,340.12 L535.22,340.30 L535.58,340.52 L535.95,340.77 L536.31,341.06 L536.67,341.37 L537.04,341.72 L537.40,342.10 L537.77,342.50 L538.13,342.92 L538.49,343.36 L538.86,343.82 L539.22,344.30 L539.59,344.79 L539.95,345.28 L540.31,345.79 L540.68,346.30 L541.04,346.80 L541.41,347.31 L541.77,347.82 L542.13,348.32 L542.50,348.81 L542.86,349.29 L543.22,349.76 L543.59,350.22 L543.95,350.67 L544.32,351.10 L544.68,351.52 L545.04,351.92 L545.41,352.30 L545.77,352.66 L546.14,353.01 L546.50,353.34 L546.86,353.65 L547.23,353.94 L547.59,354.21 L547.96,354.47 L548.32,354.71 L548.68,354.93 L549.05,355.14 L549.41,355.33 L549.77,355.50 L550.14,355.67 L550.50,355.81 L550.87,355.95 L551.23,356.07 L551.59,356.19 L551.96,356.29 L552.32,356.38 L552.69,356.47 L553.05,356.54 L553.41,356.61 L553.78,356.67 L554.14,356.72 L554.50,356.77 L554.87,356.81 L555.23,356.85" fill="none" stroke="#f8b595" stroke-width="0.9"/>
<path d="M517.65,356.85 L518.00,356.81 L518.36,356.77 L518.71,356.73 L519.07,356.68 L519.42,356.62 L519.78,356.56 L520.14,356.49 L520.49,356.41 L520.85,356.33 L521.20,356.24 L521.56,356.14 L521.92,356.02 L522.27,355.90 L522.63,355.77 L522.98,355.63 L523.34,355.47 L523.70,355.30 L524.05,355.12 L524.41,354.93 L524.76,354.72 L525.12,354.50 L525.48,354.27 L525.83,354.02 L526.19,353.75 L526.54,353.47 L526.90,353.18 L527.25,352.87 L527.61,352.55 L527.97,352.22 L528.32,351.87 L528.68,351.51 L529.03,351.14 L529.39,350.76 L529.75,350.37 L530.10,349.98 L530.46,349.57 L530.81,349.16 L531.17,348.75 L531.53,348.34 L531.88,347.92 L532.24,347.51 L532.59,347.10 L532.95,346.70 L533.31,346.31 L533.66,345.92 L534.02,345.55 L534.37,345.20 L534.73,344.86 L535.08,344.53 L535.44,344.23 L535.80,343.96 L536.15,343.70 L536.51,343.47 L536.86,343.27 L537.22,343.10 L537.58,342.96 L537.93,342.85 L538.29,342.76 L538.64,342.72 L539.00,342.70 L539.36,342.72 L539.71,342.76 L540.07,342.85 L540.42,342.96 L540.78,343.10 L541.14,343.27 L541.49,343.47 L541.85,343.70 L542.20,343.96 L542.56,344.23 L542.92,344.53 L543.27,344.86 L543.63,345.20 L543.98,345.55 L544.34,345.92 L544.69,346.31 L545.05,346.70 L545.41,347.10 L545.76,347.51 L546.12,347.92 L546.47,348.34 L546.83,348.75 L547.19,349.16 L547.54,349.57 L547.90,349.98 L548.25,350.37 L548.61,350.76 L548.97,351.14 L549.32,351.51 L549.68,351.87 L550.03,352.22 L550.39,352.55 L550.75,352.87 L551.10,353.18 L551.46,353.47 L551.81,353.75 L552.17,354.02 L552.52,354.27 L552.88,354.50 L553.24,354.72 L553.59,354.93 L553.95,355.12 L554.30,355.30 L554.66,355.47 L555.02,355.63 L555.37,355.77 L555.73,355.90 L556.08,356.02 L556.44,356.14 L556.80,356.24 L557.15,356.33 L557.51,356.41 L557.86,356.49 L558.22,356.56 L558.58,356.62 L558.93,356.68 L559.29,356.73 L559.64,356.77 L560.00,356.81 L560.35,356.85" fill="none" stroke="#f8b595" stroke-width="0.9"/>
<path d="M494.10,354.65 L495.22,354.08 L496.35,353.41 L497.47,352.63 L498.59,351.73 L499.72,350.70 L500.84,349.54 L501.96,348.24 L503.09,346.79 L504.21,345.19 L505.33,343.45 L506.45,341.58 L507.58,339.56 L508.70,337.43 L509.82,335.18 L510.95,332.83 L512.07,330.41 L513.19,327.93 L514.32,325.40 L515.44,322.87 L516.56,320.33 L517.69,317.83 L518.81,315.38 L519.93,313.00 L521.06,310.71 L522.18,308.54 L523.30,306.49 L524.42,304.58 L525.55,302.83 L526.67,301.24 L527.79,299.81 L528.92,298.54 L530.04,297.45 L531.16,296.51 L532.29,295.73 L533.41,295.11 L534.53,294.61 L535.66,294.25 L536.78,293.99 L537.90,293.83 L539.02,293.74 L540.15,293.70 L541.27,293.70 L542.39,293.71 L543.52,293.76 L544.64,293.88 L545.76,294.08 L546.89,294.39 L548.01,294.82 L549.13,295.38 L550.26,296.10 L551.38,296.98 L552.50,298.02 L553.63,299.24 L554.75,300.63 L555.87,302.19 L557.00,303.93 L558.12,305.83 L559.24,307.88 L560.36,310.06 L561.49,312.37 L562.61,314.78 L563.73,317.28 L564.86,319.83 L565.98,322.42 L567.10,325.02 L568.23,327.60 L569.35,330.15 L570.47,332.64 L571.60,335.04 L572.72,337.35 L573.84,339.54 L574.97,341.60 L576.09,343.52 L577.21,345.29 L578.33,346.91 L579.46,348.38 L580.58,349.70 L581.70,350.87 L582.83,351.90 L583.95,352.80 L585.07,353.57 L586.20,354.23 L587.32,354.79 L588.44,355.26 L589.57,355.64 L590.69,355.96 L591.81,356.22 L592.93,356.42 L594.06,356.59 L595.18,356.71 L596.30,356.81 L597.43,356.89 L598.55,356.95 L599.67,356.99 L600.80,357.02 L601.92,357.04 L603.04,357.06 L604.17,357.07 L605.29,357.08 L606.41,357.09 L607.54,357.09 L608.66,357.09 L609.78,357.10 L610.90,357.10 L612.03,357.10 L613.15,357.10 L614.27,357.10 L615.40,357.10 L616.52,357.10 L617.64,357.10 L618.77,357.10 L619.89,357.10 L621.01,357.10 L622.14,357.10 L623.26,357.10 L624.38,357.10 L625.51,357.10 L626.63,357.10 L627.75,357.10 L628.88,357.10 L630.00,357.10 L631.12,357.10 L632.24,357.10 L633.37,357.10 L634.49,357.10 L635.61,357.10 L636.74,357.10 L637.86,357.10 L638.98,357.10 L640.11,357.10 L641.23,357.10 L642.35,357.10 L643.48,357.10 L644.60,357.10 L645.72,357.10 L646.85,357.10 L647.97,357.10 L649.09,357.10 L650.21,357.10 L651.34,357.10 L652.46,357.10 L653.58,357.10 L654.71,357.10 L655.83,357.10 L656.95,357.10 L658.08,357.10 L659.20,357.10 L660.32,357.10 L661.45,357.10 L662.57,357.10 L663.69,357.10 L664.81,357.10 L665.94,357.10 L667.06,357.10 L668.18,357.10 L669.31,357.10 L670.43,357.10 L671.55,357.10 L672.68,357.10 L673.80,357.10" fill="none" stroke="#f08456" stroke-width="1.0"/>
<text x="545.60" y="305.30" font-size="10.7" text-anchor="start" fill="#1a1a1a" >DMS + 3F-PEA / CsFAMA</text>
<text x="567.20" y="320.60" font-size="9.5" text-anchor="start" fill="#1a1a1a" >Total (-0.40)</text>
<text x="521.00" y="325.20" font-size="9.4" text-anchor="start" fill="#1a1a1a" >2 (-0.405)</text>
<text x="494.60" y="340.40" font-size="9.4" text-anchor="start" fill="#1a1a1a" >3 (-0.41)</text>
<text x="546.00" y="345.60" font-size="9.4" text-anchor="start" fill="#1a1a1a" >1 (-0.40)</text>
<line x1="533.4" y1="337.6" x2="537.8" y2="329.4" stroke="#111" stroke-width="0.9" marker-end="url(#arr)"/>
<rect x="19.40" y="416.10" width="119.10" height="131.80" fill="none" stroke="#808080" stroke-width="0.8"/>
<line x1="19.40" y1="547.90" x2="138.50" y2="547.90" stroke="#4d4d4d" stroke-width="0.9"/>
<line x1="19.40" y1="416.10" x2="19.40" y2="547.90" stroke="#4d4d4d" stroke-width="0.9"/>
<line x1="19.40" y1="547.90" x2="19.40" y2="549.70" stroke="#4d4d4d" stroke-width="0.9"/>
<text x="19.40" y="559.20" font-size="9.7" text-anchor="middle" fill="#1a1a1a" >0</text>
<line x1="49.17" y1="547.90" x2="49.17" y2="549.70" stroke="#4d4d4d" stroke-width="0.9"/>
<text x="49.17" y="559.20" font-size="9.7" text-anchor="middle" fill="#1a1a1a" >25</text>
<line x1="78.95" y1="547.90" x2="78.95" y2="549.70" stroke="#4d4d4d" stroke-width="0.9"/>
<text x="78.95" y="559.20" font-size="9.7" text-anchor="middle" fill="#1a1a1a" >50</text>
<line x1="108.72" y1="547.90" x2="108.72" y2="549.70" stroke="#4d4d4d" stroke-width="0.9"/>
<text x="108.72" y="559.20" font-size="9.7" text-anchor="middle" fill="#1a1a1a" >75</text>
<line x1="138.50" y1="547.90" x2="138.50" y2="549.70" stroke="#4d4d4d" stroke-width="0.9"/>
<text x="138.50" y="559.20" font-size="9.7" text-anchor="middle" fill="#1a1a1a" >100</text>
<text x="78.95" y="572.30" font-size="9.7" text-anchor="middle" fill="#1a1a1a" >Height (nm)</text>
<text x="0" y="0" font-size="9.7" text-anchor="middle" fill="#1a1a1a" transform="translate(12.20,482.00) rotate(-90)">Counts</text>
<path d="M32.61,547.65 L33.49,547.60 L34.37,547.54 L35.25,547.46 L36.12,547.38 L37.00,547.28 L37.88,547.16 L38.76,547.02 L39.64,546.86 L40.52,546.67 L41.39,546.46 L42.27,546.21 L43.15,545.92 L44.03,545.59 L44.91,545.22 L45.78,544.79 L46.66,544.31 L47.54,543.76 L48.42,543.15 L49.30,542.46 L50.18,541.69 L51.05,540.83 L51.93,539.87 L52.81,538.81 L53.69,537.64 L54.57,536.35 L55.45,534.95 L56.32,533.41 L57.20,531.74 L58.08,529.92 L58.96,527.97 L59.84,525.86 L60.71,523.61 L61.59,521.20 L62.47,518.64 L63.35,515.92 L64.23,513.06 L65.11,510.06 L65.98,506.91 L66.86,503.64 L67.74,500.24 L68.62,496.73 L69.50,493.13 L70.38,489.44 L71.25,485.69 L72.13,481.89 L73.01,478.07 L73.89,474.24 L74.77,470.43 L75.64,466.66 L76.52,462.96 L77.40,459.35 L78.28,455.85 L79.16,452.50 L80.04,449.32 L80.91,446.33 L81.79,443.56 L82.67,441.03 L83.55,438.76 L84.43,436.76 L85.31,435.06 L86.18,433.67 L87.06,432.61 L87.94,431.87 L88.82,431.48 L89.70,431.42 L90.58,431.71 L91.45,432.33 L92.33,433.29 L93.21,434.58 L94.09,436.18 L94.97,438.08 L95.84,440.26 L96.72,442.71 L97.60,445.41 L98.48,448.33 L99.36,451.45 L100.24,454.75 L101.11,458.20 L101.99,461.78 L102.87,465.45 L103.75,469.20 L104.63,473.00 L105.51,476.83 L106.38,480.65 L107.26,484.46 L108.14,488.23 L109.02,491.94 L109.90,495.57 L110.77,499.11 L111.65,502.55 L112.53,505.86 L113.41,509.05 L114.29,512.10 L115.17,515.01 L116.04,517.77 L116.92,520.38 L117.80,522.84 L118.68,525.15 L119.56,527.30 L120.44,529.31 L121.31,531.16 L122.19,532.88 L123.07,534.46 L123.95,535.91 L124.83,537.24 L125.70,538.44 L126.58,539.54 L127.46,540.53 L128.34,541.42 L129.22,542.22 L130.10,542.93 L130.97,543.57 L131.85,544.14 L132.73,544.64 L133.61,545.09 L134.49,545.48 L135.37,545.82 L136.24,546.12 L137.12,546.38 L138.00,546.61 L138.00,547.90 L32.61,547.90 Z" fill="url(#gOR)"/>
<path d="M19.90,545.72 L20.88,545.45 L21.87,545.16 L22.85,544.83 L23.84,544.47 L24.82,544.08 L25.80,543.65 L26.79,543.18 L27.77,542.67 L28.76,542.11 L29.74,541.50 L30.73,540.84 L31.71,540.12 L32.69,539.35 L33.68,538.53 L34.66,537.63 L35.65,536.68 L36.63,535.65 L37.61,534.56 L38.60,533.39 L39.58,532.15 L40.57,530.84 L41.55,529.45 L42.54,527.98 L43.52,526.43 L44.50,524.81 L45.49,523.10 L46.47,521.32 L47.46,519.46 L48.44,517.52 L49.42,515.51 L50.41,513.42 L51.39,511.27 L52.38,509.05 L53.36,506.78 L54.35,504.44 L55.33,502.06 L56.31,499.63 L57.30,497.16 L58.28,494.67 L59.27,492.14 L60.25,489.61 L61.23,487.06 L62.22,484.52 L63.20,481.99 L64.19,479.49 L65.17,477.01 L66.16,474.57 L67.14,472.19 L68.12,469.86 L69.11,467.61 L70.09,465.45 L71.08,463.37 L72.06,461.40 L73.04,459.53 L74.03,457.79 L75.01,456.18 L76.00,454.71 L76.98,453.38 L77.97,452.20 L78.95,451.18 L79.93,450.33 L80.92,449.64 L81.90,449.12 L82.89,448.78 L83.87,448.62 L84.85,448.63 L85.84,448.82 L86.82,449.18 L87.81,449.72 L88.79,450.43 L89.78,451.30 L90.76,452.34 L91.74,453.54 L92.73,454.89 L93.71,456.38 L94.70,458.01 L95.68,459.77 L96.66,461.64 L97.65,463.63 L98.63,465.72 L99.62,467.90 L100.60,470.16 L101.59,472.49 L102.57,474.88 L103.55,477.32 L104.54,479.80 L105.52,482.32 L106.51,484.85 L107.49,487.39 L108.47,489.93 L109.46,492.47 L110.44,494.99 L111.43,497.48 L112.41,499.94 L113.40,502.37 L114.38,504.74 L115.36,507.07 L116.35,509.34 L117.33,511.55 L118.32,513.69 L119.30,515.77 L120.28,517.77 L121.27,519.70 L122.25,521.55 L123.24,523.32 L124.22,525.02 L125.21,526.64 L126.19,528.17 L127.17,529.63 L128.16,531.01 L129.14,532.32 L130.13,533.55 L131.11,534.70 L132.09,535.79 L133.08,536.80 L134.06,537.75 L135.05,538.63 L136.03,539.46 L137.02,540.22 L138.00,540.93 L138.00,547.90 L19.90,547.90 Z" fill="url(#gGR)"/>
<path d="M19.90,545.72 L20.88,545.45 L21.87,545.16 L22.85,544.83 L23.84,544.47 L24.82,544.08 L25.80,543.65 L26.79,543.18 L27.77,542.67 L28.76,542.11 L29.74,541.50 L30.73,540.84 L31.71,540.12 L32.69,539.35 L33.68,538.53 L34.66,537.63 L35.65,536.68 L36.63,535.65 L37.61,534.56 L38.60,533.39 L39.58,532.15 L40.57,530.84 L41.55,529.45 L42.54,527.98 L43.52,526.43 L44.50,524.81 L45.49,523.10 L46.47,521.32 L47.46,519.46 L48.44,517.52 L49.42,515.51 L50.41,513.42 L51.39,511.27 L52.38,509.05 L53.36,506.78 L54.35,504.44 L55.33,502.06 L56.31,499.63 L57.30,497.16 L58.28,494.67 L59.27,492.14 L60.25,489.61 L61.23,487.06 L62.22,484.52 L63.20,481.99 L64.19,479.49 L65.17,477.01 L66.16,474.57 L67.14,472.19 L68.12,469.86 L69.11,467.61 L70.09,465.45 L71.08,463.37 L72.06,461.40 L73.04,459.53 L74.03,457.79 L75.01,456.18 L76.00,454.71 L76.98,453.38 L77.97,452.20 L78.95,451.18 L79.93,450.33 L80.92,449.64 L81.90,449.12 L82.89,448.78 L83.87,448.62 L84.85,448.63 L85.84,448.82 L86.82,449.18 L87.81,449.72 L88.79,450.43 L89.78,451.30 L90.76,452.34 L91.74,453.54 L92.73,454.89 L93.71,456.38 L94.70,458.01 L95.68,459.77 L96.66,461.64 L97.65,463.63 L98.63,465.72 L99.62,467.90 L100.60,470.16 L101.59,472.49 L102.57,474.88 L103.55,477.32 L104.54,479.80 L105.52,482.32 L106.51,484.85 L107.49,487.39 L108.47,489.93 L109.46,492.47 L110.44,494.99 L111.43,497.48 L112.41,499.94 L113.40,502.37 L114.38,504.74 L115.36,507.07 L116.35,509.34 L117.33,511.55 L118.32,513.69 L119.30,515.77 L120.28,517.77 L121.27,519.70 L122.25,521.55 L123.24,523.32 L124.22,525.02 L125.21,526.64 L126.19,528.17 L127.17,529.63 L128.16,531.01 L129.14,532.32 L130.13,533.55 L131.11,534.70 L132.09,535.79 L133.08,536.80 L134.06,537.75 L135.05,538.63 L136.03,539.46 L137.02,540.22 L138.00,540.93 L138.00,547.90 L19.90,547.90 Z" fill="url(#gLB)" opacity="0.35"/>
<path d="M19.90,546.57 L20.88,546.37 L21.87,546.14 L22.85,545.89 L23.84,545.61 L24.82,545.30 L25.80,544.94 L26.79,544.55 L27.77,544.12 L28.76,543.64 L29.74,543.11 L30.73,542.53 L31.71,541.89 L32.69,541.19 L33.68,540.43 L34.66,539.61 L35.65,538.71 L36.63,537.75 L37.61,536.71 L38.60,535.59 L39.58,534.39 L40.57,533.11 L41.55,531.75 L42.54,530.31 L43.52,528.79 L44.50,527.18 L45.49,525.50 L46.47,523.73 L47.46,521.89 L48.44,519.98 L49.42,518.00 L50.41,515.95 L51.39,513.85 L52.38,511.70 L53.36,509.50 L54.35,507.27 L55.33,505.02 L56.31,502.75 L57.30,500.47 L58.28,498.20 L59.27,495.94 L60.25,493.72 L61.23,491.54 L62.22,489.41 L63.20,487.34 L64.19,485.36 L65.17,483.47 L66.16,481.68 L67.14,480.00 L68.12,478.45 L69.11,477.04 L70.09,475.77 L71.08,474.66 L72.06,473.71 L73.04,472.93 L74.03,472.33 L75.01,471.90 L76.00,471.66 L76.98,471.60 L77.97,471.73 L78.95,472.04 L79.93,472.53 L80.92,473.20 L81.90,474.04 L82.89,475.05 L83.87,476.22 L84.85,477.54 L85.84,479.01 L86.82,480.60 L87.81,482.32 L88.79,484.15 L89.78,486.08 L90.76,488.10 L91.74,490.19 L92.73,492.34 L93.71,494.54 L94.70,496.77 L95.68,499.03 L96.66,501.31 L97.65,503.59 L98.63,505.85 L99.62,508.10 L100.60,510.32 L101.59,512.50 L102.57,514.63 L103.55,516.71 L104.54,518.74 L105.52,520.69 L106.51,522.58 L107.49,524.39 L108.47,526.13 L109.46,527.79 L110.44,529.36 L111.43,530.86 L112.41,532.27 L113.40,533.60 L114.38,534.84 L115.36,536.01 L116.35,537.10 L117.33,538.11 L118.32,539.05 L119.30,539.92 L120.28,540.72 L121.27,541.46 L122.25,542.13 L123.24,542.75 L124.22,543.31 L125.21,543.82 L126.19,544.28 L127.17,544.70 L128.16,545.08 L129.14,545.42 L130.13,545.72 L131.11,545.99 L132.09,546.23 L133.08,546.44 L134.06,546.63 L135.05,546.80 L136.03,546.95 L137.02,547.08 L138.00,547.19 L138.00,547.90 L19.90,547.90 Z" fill="url(#gDB)"/>
<path d="M19.90,545.72 L20.88,545.45 L21.87,545.16 L22.85,544.83 L23.84,544.47 L24.82,544.08 L25.80,543.65 L26.79,543.18 L27.77,542.67 L28.76,542.11 L29.74,541.50 L30.73,540.84 L31.71,540.12 L32.69,539.35 L33.68,538.53 L34.66,537.63 L35.65,536.68 L36.63,535.65 L37.61,534.56 L38.60,533.39 L39.58,532.15 L40.57,530.84 L41.55,529.45 L42.54,527.98 L43.52,526.43 L44.50,524.81 L45.49,523.10 L46.47,521.32 L47.46,519.46 L48.44,517.52 L49.42,515.51 L50.41,513.42 L51.39,511.27 L52.38,509.05 L53.36,506.78 L54.35,504.44 L55.33,502.06 L56.31,499.63 L57.30,497.16 L58.28,494.67 L59.27,492.14 L60.25,489.61 L61.23,487.06 L62.22,484.52 L63.20,481.99 L64.19,479.49 L65.17,477.01 L66.16,474.57 L67.14,472.19 L68.12,469.86 L69.11,467.61 L70.09,465.45 L71.08,463.37 L72.06,461.40 L73.04,459.53 L74.03,457.79 L75.01,456.18 L76.00,454.71 L76.98,453.38 L77.97,452.20 L78.95,451.18 L79.93,450.33 L80.92,449.64 L81.90,449.12 L82.89,448.78 L83.87,448.62 L84.85,448.63 L85.84,448.82 L86.82,449.18 L87.81,449.72 L88.79,450.43 L89.78,451.30 L90.76,452.34 L91.74,453.54 L92.73,454.89 L93.71,456.38 L94.70,458.01 L95.68,459.77 L96.66,461.64 L97.65,463.63 L98.63,465.72 L99.62,467.90 L100.60,470.16 L101.59,472.49 L102.57,474.88 L103.55,477.32 L104.54,479.80 L105.52,482.32 L106.51,484.85 L107.49,487.39 L108.47,489.93 L109.46,492.47 L110.44,494.99 L111.43,497.48 L112.41,499.94 L113.40,502.37 L114.38,504.74 L115.36,507.07 L116.35,509.34 L117.33,511.55 L118.32,513.69 L119.30,515.77 L120.28,517.77 L121.27,519.70 L122.25,521.55 L123.24,523.32 L124.22,525.02 L125.21,526.64 L126.19,528.17 L127.17,529.63 L128.16,531.01 L129.14,532.32 L130.13,533.55 L131.11,534.70 L132.09,535.79 L133.08,536.80 L134.06,537.75 L135.05,538.63 L136.03,539.46 L137.02,540.22 L138.00,540.93" fill="none" stroke="#8dbde2" stroke-width="1.1"/>
<path d="M32.61,547.65 L33.49,547.60 L34.37,547.54 L35.25,547.46 L36.12,547.38 L37.00,547.28 L37.88,547.16 L38.76,547.02 L39.64,546.86 L40.52,546.67 L41.39,546.46 L42.27,546.21 L43.15,545.92 L44.03,545.59 L44.91,545.22 L45.78,544.79 L46.66,544.31 L47.54,543.76 L48.42,543.15 L49.30,542.46 L50.18,541.69 L51.05,540.83 L51.93,539.87 L52.81,538.81 L53.69,537.64 L54.57,536.35 L55.45,534.95 L56.32,533.41 L57.20,531.74 L58.08,529.92 L58.96,527.97 L59.84,525.86 L60.71,523.61 L61.59,521.20 L62.47,518.64 L63.35,515.92 L64.23,513.06 L65.11,510.06 L65.98,506.91 L66.86,503.64 L67.74,500.24 L68.62,496.73 L69.50,493.13 L70.38,489.44 L71.25,485.69 L72.13,481.89 L73.01,478.07 L73.89,474.24 L74.77,470.43 L75.64,466.66 L76.52,462.96 L77.40,459.35 L78.28,455.85 L79.16,452.50 L80.04,449.32 L80.91,446.33 L81.79,443.56 L82.67,441.03 L83.55,438.76 L84.43,436.76 L85.31,435.06 L86.18,433.67 L87.06,432.61 L87.94,431.87 L88.82,431.48 L89.70,431.42 L90.58,431.71 L91.45,432.33 L92.33,433.29 L93.21,434.58 L94.09,436.18 L94.97,438.08 L95.84,440.26 L96.72,442.71 L97.60,445.41 L98.48,448.33 L99.36,451.45 L100.24,454.75 L101.11,458.20 L101.99,461.78 L102.87,465.45 L103.75,469.20 L104.63,473.00 L105.51,476.83 L106.38,480.65 L107.26,484.46 L108.14,488.23 L109.02,491.94 L109.90,495.57 L110.77,499.11 L111.65,502.55 L112.53,505.86 L113.41,509.05 L114.29,512.10 L115.17,515.01 L116.04,517.77 L116.92,520.38 L117.80,522.84 L118.68,525.15 L119.56,527.30 L120.44,529.31 L121.31,531.16 L122.19,532.88 L123.07,534.46 L123.95,535.91 L124.83,537.24 L125.70,538.44 L126.58,539.54 L127.46,540.53 L128.34,541.42 L129.22,542.22 L130.10,542.93 L130.97,543.57 L131.85,544.14 L132.73,544.64 L133.61,545.09 L134.49,545.48 L135.37,545.82 L136.24,546.12 L137.12,546.38 L138.00,546.61" fill="none" stroke="#f3814f" stroke-width="1.1"/>
<path d="M19.90,546.57 L20.88,546.37 L21.87,546.14 L22.85,545.89 L23.84,545.61 L24.82,545.30 L25.80,544.94 L26.79,544.55 L27.77,544.12 L28.76,543.64 L29.74,543.11 L30.73,542.53 L31.71,541.89 L32.69,541.19 L33.68,540.43 L34.66,539.61 L35.65,538.71 L36.63,537.75 L37.61,536.71 L38.60,535.59 L39.58,534.39 L40.57,533.11 L41.55,531.75 L42.54,530.31 L43.52,528.79 L44.50,527.18 L45.49,525.50 L46.47,523.73 L47.46,521.89 L48.44,519.98 L49.42,518.00 L50.41,515.95 L51.39,513.85 L52.38,511.70 L53.36,509.50 L54.35,507.27 L55.33,505.02 L56.31,502.75 L57.30,500.47 L58.28,498.20 L59.27,495.94 L60.25,493.72 L61.23,491.54 L62.22,489.41 L63.20,487.34 L64.19,485.36 L65.17,483.47 L66.16,481.68 L67.14,480.00 L68.12,478.45 L69.11,477.04 L70.09,475.77 L71.08,474.66 L72.06,473.71 L73.04,472.93 L74.03,472.33 L75.01,471.90 L76.00,471.66 L76.98,471.60 L77.97,471.73 L78.95,472.04 L79.93,472.53 L80.92,473.20 L81.90,474.04 L82.89,475.05 L83.87,476.22 L84.85,477.54 L85.84,479.01 L86.82,480.60 L87.81,482.32 L88.79,484.15 L89.78,486.08 L90.76,488.10 L91.74,490.19 L92.73,492.34 L93.71,494.54 L94.70,496.77 L95.68,499.03 L96.66,501.31 L97.65,503.59 L98.63,505.85 L99.62,508.10 L100.60,510.32 L101.59,512.50 L102.57,514.63 L103.55,516.71 L104.54,518.74 L105.52,520.69 L106.51,522.58 L107.49,524.39 L108.47,526.13 L109.46,527.79 L110.44,529.36 L111.43,530.86 L112.41,532.27 L113.40,533.60 L114.38,534.84 L115.36,536.01 L116.35,537.10 L117.33,538.11 L118.32,539.05 L119.30,539.92 L120.28,540.72 L121.27,541.46 L122.25,542.13 L123.24,542.75 L124.22,543.31 L125.21,543.82 L126.19,544.28 L127.17,544.70 L128.16,545.08 L129.14,545.42 L130.13,545.72 L131.11,545.99 L132.09,546.23 L133.08,546.44 L134.06,546.63 L135.05,546.80 L136.03,546.95 L137.02,547.08 L138.00,547.19" fill="none" stroke="#3f6db5" stroke-width="1.2"/>
<text x="134.60" y="428.90" font-size="10.4" text-anchor="end" fill="#1a1a1a" >DMS + 3F-PEA /</text>
<text x="134.60" y="441.60" font-size="10.4" text-anchor="end" fill="#1a1a1a" >CsFAMA</text>
<text x="26.60" y="452.60" font-size="10.7" text-anchor="start" fill="#1a1a1a" >3F-PEA /</text>
<text x="26.80" y="464.40" font-size="10.7" text-anchor="start" fill="#1a1a1a" >CsFAMA</text>
<text x="21.60" y="488.00" font-size="10.7" text-anchor="start" fill="#1a1a1a" >CsFAMA</text>
<rect x="196.40" y="415.20" width="119.40" height="132.50" fill="none" stroke="#808080" stroke-width="0.8"/>
<line x1="196.40" y1="547.70" x2="315.80" y2="547.70" stroke="#4d4d4d" stroke-width="0.9"/>
<line x1="196.40" y1="415.20" x2="196.40" y2="547.70" stroke="#4d4d4d" stroke-width="0.9"/>
<line x1="196.40" y1="547.70" x2="196.40" y2="549.50" stroke="#4d4d4d" stroke-width="0.9"/>
<text x="196.40" y="559.60" font-size="9.7" text-anchor="middle" fill="#1a1a1a" >-0.6</text>
<line x1="236.20" y1="547.70" x2="236.20" y2="549.50" stroke="#4d4d4d" stroke-width="0.9"/>
<text x="236.20" y="559.60" font-size="9.7" text-anchor="middle" fill="#1a1a1a" >-0.5</text>
<line x1="276.00" y1="547.70" x2="276.00" y2="549.50" stroke="#4d4d4d" stroke-width="0.9"/>
<text x="276.00" y="559.60" font-size="9.7" text-anchor="middle" fill="#1a1a1a" >-0.4</text>
<line x1="315.80" y1="547.70" x2="315.80" y2="549.50" stroke="#4d4d4d" stroke-width="0.9"/>
<text x="315.80" y="559.60" font-size="9.7" text-anchor="middle" fill="#1a1a1a" >-0.3</text>
<text x="256.10" y="571.30" font-size="9.7" text-anchor="middle" fill="#1a1a1a" >CPD (V)</text>
<text x="0" y="0" font-size="9.7" text-anchor="middle" fill="#1a1a1a" transform="translate(188.80,481.00) rotate(-90)">Counts</text>
<path d="M249.64,547.45 L250.16,547.39 L250.68,547.33 L251.19,547.25 L251.71,547.15 L252.23,547.04 L252.75,546.90 L253.26,546.75 L253.78,546.56 L254.30,546.35 L254.82,546.09 L255.33,545.80 L255.85,545.46 L256.37,545.07 L256.89,544.62 L257.41,544.11 L257.92,543.53 L258.44,542.87 L258.96,542.12 L259.48,541.28 L259.99,540.33 L260.51,539.28 L261.03,538.11 L261.55,536.81 L262.06,535.38 L262.58,533.81 L263.10,532.09 L263.62,530.22 L264.13,528.19 L264.65,525.99 L265.17,523.63 L265.69,521.11 L266.21,518.42 L266.72,515.56 L267.24,512.55 L267.76,509.38 L268.28,506.07 L268.79,502.62 L269.31,499.06 L269.83,495.39 L270.35,491.63 L270.86,487.81 L271.38,483.94 L271.90,480.05 L272.42,476.17 L272.94,472.31 L273.45,468.52 L273.97,464.82 L274.49,461.25 L275.01,457.82 L275.52,454.56 L276.04,451.52 L276.56,448.72 L277.08,446.17 L277.59,443.92 L278.11,441.97 L278.63,440.35 L279.15,439.07 L279.66,438.14 L280.18,437.59 L280.70,437.40 L281.22,437.59 L281.74,438.14 L282.25,439.07 L282.77,440.35 L283.29,441.97 L283.81,443.92 L284.32,446.17 L284.84,448.72 L285.36,451.52 L285.88,454.56 L286.39,457.82 L286.91,461.25 L287.43,464.82 L287.95,468.52 L288.46,472.31 L288.98,476.17 L289.50,480.05 L290.02,483.94 L290.54,487.81 L291.05,491.63 L291.57,495.39 L292.09,499.06 L292.61,502.62 L293.12,506.07 L293.64,509.38 L294.16,512.55 L294.68,515.56 L295.19,518.42 L295.71,521.11 L296.23,523.63 L296.75,525.99 L297.27,528.19 L297.78,530.22 L298.30,532.09 L298.82,533.81 L299.34,535.38 L299.85,536.81 L300.37,538.11 L300.89,539.28 L301.41,540.33 L301.92,541.28 L302.44,542.12 L302.96,542.87 L303.48,543.53 L303.99,544.11 L304.51,544.62 L305.03,545.07 L305.55,545.46 L306.07,545.80 L306.58,546.09 L307.10,546.35 L307.62,546.56 L308.14,546.75 L308.65,546.90 L309.17,547.04 L309.69,547.15 L310.21,547.25 L310.72,547.33 L311.24,547.39 L311.76,547.45 L311.76,547.70 L249.64,547.70 Z" fill="url(#hLB)"/>
<path d="M214.02,547.45 L214.75,547.40 L215.48,547.34 L216.20,547.26 L216.93,547.18 L217.66,547.08 L218.39,546.96 L219.12,546.82 L219.84,546.66 L220.57,546.47 L221.30,546.26 L222.03,546.01 L222.76,545.73 L223.48,545.41 L224.21,545.04 L224.94,544.63 L225.67,544.16 L226.40,543.64 L227.12,543.05 L227.85,542.39 L228.58,541.66 L229.31,540.85 L230.04,539.96 L230.76,538.97 L231.49,537.90 L232.22,536.72 L232.95,535.45 L233.68,534.07 L234.40,532.58 L235.13,530.99 L235.86,529.28 L236.59,527.47 L237.32,525.55 L238.04,523.52 L238.77,521.39 L239.50,519.16 L240.23,516.85 L240.96,514.45 L241.68,511.98 L242.41,509.45 L243.14,506.87 L243.87,504.25 L244.60,501.62 L245.32,498.98 L246.05,496.35 L246.78,493.75 L247.51,491.20 L248.24,488.72 L248.96,486.32 L249.69,484.03 L250.42,481.86 L251.15,479.84 L251.88,477.98 L252.60,476.29 L253.33,474.80 L254.06,473.51 L254.79,472.44 L255.52,471.60 L256.24,470.99 L256.97,470.62 L257.70,470.50 L258.43,470.62 L259.16,470.99 L259.88,471.60 L260.61,472.44 L261.34,473.51 L262.07,474.80 L262.80,476.29 L263.52,477.98 L264.25,479.84 L264.98,481.86 L265.71,484.03 L266.44,486.32 L267.16,488.72 L267.89,491.20 L268.62,493.75 L269.35,496.35 L270.08,498.98 L270.80,501.62 L271.53,504.25 L272.26,506.87 L272.99,509.45 L273.72,511.98 L274.44,514.45 L275.17,516.85 L275.90,519.16 L276.63,521.39 L277.36,523.52 L278.08,525.55 L278.81,527.47 L279.54,529.28 L280.27,530.99 L281.00,532.58 L281.72,534.07 L282.45,535.45 L283.18,536.72 L283.91,537.90 L284.64,538.97 L285.36,539.96 L286.09,540.85 L286.82,541.66 L287.55,542.39 L288.28,543.05 L289.00,543.64 L289.73,544.16 L290.46,544.63 L291.19,545.04 L291.92,545.41 L292.64,545.73 L293.37,546.01 L294.10,546.26 L294.83,546.47 L295.56,546.66 L296.28,546.82 L297.01,546.96 L297.74,547.08 L298.47,547.18 L299.20,547.26 L299.92,547.34 L300.65,547.40 L301.38,547.45 L301.38,547.70 L214.02,547.70 Z" fill="url(#hDB)"/>
<path d="M249.64,547.45 L250.16,547.39 L250.68,547.33 L251.19,547.25 L251.71,547.15 L252.23,547.04 L252.75,546.90 L253.26,546.75 L253.78,546.56 L254.30,546.35 L254.82,546.09 L255.33,545.80 L255.85,545.46 L256.37,545.07 L256.89,544.62 L257.41,544.11 L257.92,543.53 L258.44,542.87 L258.96,542.12 L259.48,541.28 L259.99,540.33 L260.51,539.28 L261.03,538.11 L261.55,536.81 L262.06,535.38 L262.58,533.81 L263.10,532.09 L263.62,530.22 L264.13,528.19 L264.65,525.99 L265.17,523.63 L265.69,521.11 L266.21,518.42 L266.72,515.56 L267.24,512.55 L267.76,509.38 L268.28,506.07 L268.79,502.62 L269.31,499.06 L269.83,495.39 L270.35,491.63 L270.86,487.81 L271.38,483.94 L271.90,480.05 L272.42,476.17 L272.94,472.31 L273.45,468.52 L273.97,464.82 L274.49,461.25 L275.01,457.82 L275.52,454.56 L276.04,451.52 L276.56,448.72 L277.08,446.17 L277.59,443.92 L278.11,441.97 L278.63,440.35 L279.15,439.07 L279.66,438.14 L280.18,437.59 L280.70,437.40 L281.22,437.59 L281.74,438.14 L282.25,439.07 L282.77,440.35 L283.29,441.97 L283.81,443.92 L284.32,446.17 L284.84,448.72 L285.36,451.52 L285.88,454.56 L286.39,457.82 L286.91,461.25 L287.43,464.82 L287.95,468.52 L288.46,472.31 L288.98,476.17 L289.50,480.05 L290.02,483.94 L290.54,487.81 L291.05,491.63 L291.57,495.39 L292.09,499.06 L292.61,502.62 L293.12,506.07 L293.64,509.38 L294.16,512.55 L294.68,515.56 L295.19,518.42 L295.71,521.11 L296.23,523.63 L296.75,525.99 L297.27,528.19 L297.78,530.22 L298.30,532.09 L298.82,533.81 L299.34,535.38 L299.85,536.81 L300.37,538.11 L300.89,539.28 L301.41,540.33 L301.92,541.28 L302.44,542.12 L302.96,542.87 L303.48,543.53 L303.99,544.11 L304.51,544.62 L305.03,545.07 L305.55,545.46 L306.07,545.80 L306.58,546.09 L307.10,546.35 L307.62,546.56 L308.14,546.75 L308.65,546.90 L309.17,547.04 L309.69,547.15 L310.21,547.25 L310.72,547.33 L311.24,547.39 L311.76,547.45" fill="none" stroke="#9cc4e6" stroke-width="1.0"/>
<path d="M214.02,547.45 L214.75,547.40 L215.48,547.34 L216.20,547.26 L216.93,547.18 L217.66,547.08 L218.39,546.96 L219.12,546.82 L219.84,546.66 L220.57,546.47 L221.30,546.26 L222.03,546.01 L222.76,545.73 L223.48,545.41 L224.21,545.04 L224.94,544.63 L225.67,544.16 L226.40,543.64 L227.12,543.05 L227.85,542.39 L228.58,541.66 L229.31,540.85 L230.04,539.96 L230.76,538.97 L231.49,537.90 L232.22,536.72 L232.95,535.45 L233.68,534.07 L234.40,532.58 L235.13,530.99 L235.86,529.28 L236.59,527.47 L237.32,525.55 L238.04,523.52 L238.77,521.39 L239.50,519.16 L240.23,516.85 L240.96,514.45 L241.68,511.98 L242.41,509.45 L243.14,506.87 L243.87,504.25 L244.60,501.62 L245.32,498.98 L246.05,496.35 L246.78,493.75 L247.51,491.20 L248.24,488.72 L248.96,486.32 L249.69,484.03 L250.42,481.86 L251.15,479.84 L251.88,477.98 L252.60,476.29 L253.33,474.80 L254.06,473.51 L254.79,472.44 L255.52,471.60 L256.24,470.99 L256.97,470.62 L257.70,470.50 L258.43,470.62 L259.16,470.99 L259.88,471.60 L260.61,472.44 L261.34,473.51 L262.07,474.80 L262.80,476.29 L263.52,477.98 L264.25,479.84 L264.98,481.86 L265.71,484.03 L266.44,486.32 L267.16,488.72 L267.89,491.20 L268.62,493.75 L269.35,496.35 L270.08,498.98 L270.80,501.62 L271.53,504.25 L272.26,506.87 L272.99,509.45 L273.72,511.98 L274.44,514.45 L275.17,516.85 L275.90,519.16 L276.63,521.39 L277.36,523.52 L278.08,525.55 L278.81,527.47 L279.54,529.28 L280.27,530.99 L281.00,532.58 L281.72,534.07 L282.45,535.45 L283.18,536.72 L283.91,537.90 L284.64,538.97 L285.36,539.96 L286.09,540.85 L286.82,541.66 L287.55,542.39 L288.28,543.05 L289.00,543.64 L289.73,544.16 L290.46,544.63 L291.19,545.04 L291.92,545.41 L292.64,545.73 L293.37,546.01 L294.10,546.26 L294.83,546.47 L295.56,546.66 L296.28,546.82 L297.01,546.96 L297.74,547.08 L298.47,547.18 L299.20,547.26 L299.92,547.34 L300.65,547.40 L301.38,547.45" fill="none" stroke="#4a78c0" stroke-width="1.2"/>
<text x="204.90" y="429.40" font-size="10.7" text-anchor="start" fill="#1a1a1a" >3F-PEA / CsFAMA</text>
<text x="246.90" y="446.70" font-size="9.7" text-anchor="start" fill="#1a1a1a" >Dark</text>
<text x="220.50" y="472.60" font-size="9.7" text-anchor="start" fill="#1a1a1a" >Illum.</text>
<rect x="373.30" y="415.40" width="116.60" height="131.70" fill="none" stroke="#808080" stroke-width="0.8"/>
<line x1="373.30" y1="547.10" x2="489.90" y2="547.10" stroke="#4d4d4d" stroke-width="0.9"/>
<line x1="373.30" y1="415.40" x2="373.30" y2="547.10" stroke="#4d4d4d" stroke-width="0.9"/>
<line x1="373.30" y1="547.10" x2="373.30" y2="548.90" stroke="#4d4d4d" stroke-width="0.9"/>
<text x="373.30" y="559.40" font-size="9.7" text-anchor="middle" fill="#1a1a1a" >-0.6</text>
<line x1="412.17" y1="547.10" x2="412.17" y2="548.90" stroke="#4d4d4d" stroke-width="0.9"/>
<text x="412.17" y="559.40" font-size="9.7" text-anchor="middle" fill="#1a1a1a" >-0.5</text>
<line x1="451.03" y1="547.10" x2="451.03" y2="548.90" stroke="#4d4d4d" stroke-width="0.9"/>
<text x="451.03" y="559.40" font-size="9.7" text-anchor="middle" fill="#1a1a1a" >-0.4</text>
<line x1="489.90" y1="547.10" x2="489.90" y2="548.90" stroke="#4d4d4d" stroke-width="0.9"/>
<text x="489.90" y="559.40" font-size="9.7" text-anchor="middle" fill="#1a1a1a" >-0.3</text>
<text x="431.60" y="571.00" font-size="9.7" text-anchor="middle" fill="#1a1a1a" >CPD (V)</text>
<text x="0" y="0" font-size="9.7" text-anchor="middle" fill="#1a1a1a" transform="translate(365.30,481.00) rotate(-90)">Counts</text>
<path d="M426.40,546.85 L426.74,546.80 L427.07,546.73 L427.40,546.65 L427.74,546.56 L428.07,546.45 L428.40,546.33 L428.74,546.18 L429.07,546.00 L429.40,545.80 L429.74,545.56 L430.07,545.29 L430.40,544.98 L430.74,544.62 L431.07,544.20 L431.40,543.73 L431.74,543.20 L432.07,542.60 L432.40,541.92 L432.74,541.16 L433.07,540.31 L433.40,539.36 L433.74,538.31 L434.07,537.16 L434.40,535.88 L434.74,534.49 L435.07,532.97 L435.40,531.31 L435.74,529.52 L436.07,527.60 L436.40,525.53 L436.73,523.33 L437.07,520.98 L437.40,518.50 L437.73,515.88 L438.07,513.14 L438.40,510.28 L438.73,507.31 L439.07,504.24 L439.40,501.08 L439.73,497.86 L440.07,494.59 L440.40,491.28 L440.73,487.96 L441.07,484.65 L441.40,481.37 L441.73,478.15 L442.07,475.00 L442.40,471.96 L442.73,469.06 L443.07,466.30 L443.40,463.73 L443.73,461.36 L444.07,459.21 L444.40,457.30 L444.73,455.65 L445.07,454.28 L445.40,453.21 L445.73,452.43 L446.07,451.96 L446.40,451.80 L446.73,451.96 L447.07,452.43 L447.40,453.21 L447.73,454.28 L448.07,455.65 L448.40,457.30 L448.73,459.21 L449.07,461.36 L449.40,463.73 L449.73,466.30 L450.07,469.06 L450.40,471.96 L450.73,475.00 L451.07,478.15 L451.40,481.37 L451.73,484.65 L452.07,487.96 L452.40,491.28 L452.73,494.59 L453.07,497.86 L453.40,501.08 L453.73,504.24 L454.07,507.31 L454.40,510.28 L454.73,513.14 L455.07,515.88 L455.40,518.50 L455.73,520.98 L456.07,523.33 L456.40,525.53 L456.73,527.60 L457.06,529.52 L457.40,531.31 L457.73,532.97 L458.06,534.49 L458.40,535.88 L458.73,537.16 L459.06,538.31 L459.40,539.36 L459.73,540.31 L460.06,541.16 L460.40,541.92 L460.73,542.60 L461.06,543.20 L461.40,543.73 L461.73,544.20 L462.06,544.62 L462.40,544.98 L462.73,545.29 L463.06,545.56 L463.40,545.80 L463.73,546.00 L464.06,546.18 L464.40,546.33 L464.73,546.45 L465.06,546.56 L465.40,546.65 L465.73,546.73 L466.06,546.80 L466.40,546.85 L466.40,547.10 L426.40,547.10 Z" fill="url(#iLO)"/>
<path d="M378.64,546.85 L379.03,546.80 L379.43,546.73 L379.82,546.65 L380.21,546.56 L380.60,546.45 L381.00,546.32 L381.39,546.17 L381.78,545.99 L382.18,545.78 L382.57,545.54 L382.96,545.25 L383.35,544.93 L383.75,544.56 L384.14,544.13 L384.53,543.65 L384.92,543.09 L385.32,542.47 L385.71,541.76 L386.10,540.97 L386.49,540.09 L386.89,539.10 L387.28,538.00 L387.67,536.79 L388.06,535.46 L388.46,534.00 L388.85,532.40 L389.24,530.66 L389.64,528.78 L390.03,526.75 L390.42,524.57 L390.81,522.24 L391.21,519.77 L391.60,517.14 L391.99,514.37 L392.38,511.47 L392.78,508.44 L393.17,505.29 L393.56,502.03 L393.95,498.68 L394.35,495.25 L394.74,491.77 L395.13,488.25 L395.53,484.71 L395.92,481.19 L396.31,477.69 L396.70,474.25 L397.10,470.90 L397.49,467.66 L397.88,464.55 L398.27,461.61 L398.67,458.86 L399.06,456.32 L399.45,454.02 L399.84,451.98 L400.24,450.22 L400.63,448.76 L401.02,447.60 L401.41,446.77 L401.81,446.27 L402.20,446.10 L402.59,446.27 L402.99,446.77 L403.38,447.60 L403.77,448.76 L404.16,450.22 L404.56,451.98 L404.95,454.02 L405.34,456.32 L405.73,458.86 L406.13,461.61 L406.52,464.55 L406.91,467.66 L407.30,470.90 L407.70,474.25 L408.09,477.69 L408.48,481.19 L408.87,484.71 L409.27,488.25 L409.66,491.77 L410.05,495.25 L410.45,498.68 L410.84,502.03 L411.23,505.29 L411.62,508.44 L412.02,511.47 L412.41,514.37 L412.80,517.14 L413.19,519.77 L413.59,522.24 L413.98,524.57 L414.37,526.75 L414.76,528.78 L415.16,530.66 L415.55,532.40 L415.94,534.00 L416.34,535.46 L416.73,536.79 L417.12,538.00 L417.51,539.10 L417.91,540.09 L418.30,540.97 L418.69,541.76 L419.08,542.47 L419.48,543.09 L419.87,543.65 L420.26,544.13 L420.65,544.56 L421.05,544.93 L421.44,545.25 L421.83,545.54 L422.22,545.78 L422.62,545.99 L423.01,546.17 L423.40,546.32 L423.80,546.45 L424.19,546.56 L424.58,546.65 L424.97,546.73 L425.37,546.80 L425.76,546.85 L425.76,547.10 L378.64,547.10 Z" fill="url(#iOR)"/>
<path d="M426.40,546.85 L426.74,546.80 L427.07,546.73 L427.40,546.65 L427.74,546.56 L428.07,546.45 L428.40,546.33 L428.74,546.18 L429.07,546.00 L429.40,545.80 L429.74,545.56 L430.07,545.29 L430.40,544.98 L430.74,544.62 L431.07,544.20 L431.40,543.73 L431.74,543.20 L432.07,542.60 L432.40,541.92 L432.74,541.16 L433.07,540.31 L433.40,539.36 L433.74,538.31 L434.07,537.16 L434.40,535.88 L434.74,534.49 L435.07,532.97 L435.40,531.31 L435.74,529.52 L436.07,527.60 L436.40,525.53 L436.73,523.33 L437.07,520.98 L437.40,518.50 L437.73,515.88 L438.07,513.14 L438.40,510.28 L438.73,507.31 L439.07,504.24 L439.40,501.08 L439.73,497.86 L440.07,494.59 L440.40,491.28 L440.73,487.96 L441.07,484.65 L441.40,481.37 L441.73,478.15 L442.07,475.00 L442.40,471.96 L442.73,469.06 L443.07,466.30 L443.40,463.73 L443.73,461.36 L444.07,459.21 L444.40,457.30 L444.73,455.65 L445.07,454.28 L445.40,453.21 L445.73,452.43 L446.07,451.96 L446.40,451.80 L446.73,451.96 L447.07,452.43 L447.40,453.21 L447.73,454.28 L448.07,455.65 L448.40,457.30 L448.73,459.21 L449.07,461.36 L449.40,463.73 L449.73,466.30 L450.07,469.06 L450.40,471.96 L450.73,475.00 L451.07,478.15 L451.40,481.37 L451.73,484.65 L452.07,487.96 L452.40,491.28 L452.73,494.59 L453.07,497.86 L453.40,501.08 L453.73,504.24 L454.07,507.31 L454.40,510.28 L454.73,513.14 L455.07,515.88 L455.40,518.50 L455.73,520.98 L456.07,523.33 L456.40,525.53 L456.73,527.60 L457.06,529.52 L457.40,531.31 L457.73,532.97 L458.06,534.49 L458.40,535.88 L458.73,537.16 L459.06,538.31 L459.40,539.36 L459.73,540.31 L460.06,541.16 L460.40,541.92 L460.73,542.60 L461.06,543.20 L461.40,543.73 L461.73,544.20 L462.06,544.62 L462.40,544.98 L462.73,545.29 L463.06,545.56 L463.40,545.80 L463.73,546.00 L464.06,546.18 L464.40,546.33 L464.73,546.45 L465.06,546.56 L465.40,546.65 L465.73,546.73 L466.06,546.80 L466.40,546.85" fill="none" stroke="#f8b08e" stroke-width="1.0"/>
<path d="M378.64,546.85 L379.03,546.80 L379.43,546.73 L379.82,546.65 L380.21,546.56 L380.60,546.45 L381.00,546.32 L381.39,546.17 L381.78,545.99 L382.18,545.78 L382.57,545.54 L382.96,545.25 L383.35,544.93 L383.75,544.56 L384.14,544.13 L384.53,543.65 L384.92,543.09 L385.32,542.47 L385.71,541.76 L386.10,540.97 L386.49,540.09 L386.89,539.10 L387.28,538.00 L387.67,536.79 L388.06,535.46 L388.46,534.00 L388.85,532.40 L389.24,530.66 L389.64,528.78 L390.03,526.75 L390.42,524.57 L390.81,522.24 L391.21,519.77 L391.60,517.14 L391.99,514.37 L392.38,511.47 L392.78,508.44 L393.17,505.29 L393.56,502.03 L393.95,498.68 L394.35,495.25 L394.74,491.77 L395.13,488.25 L395.53,484.71 L395.92,481.19 L396.31,477.69 L396.70,474.25 L397.10,470.90 L397.49,467.66 L397.88,464.55 L398.27,461.61 L398.67,458.86 L399.06,456.32 L399.45,454.02 L399.84,451.98 L400.24,450.22 L400.63,448.76 L401.02,447.60 L401.41,446.77 L401.81,446.27 L402.20,446.10 L402.59,446.27 L402.99,446.77 L403.38,447.60 L403.77,448.76 L404.16,450.22 L404.56,451.98 L404.95,454.02 L405.34,456.32 L405.73,458.86 L406.13,461.61 L406.52,464.55 L406.91,467.66 L407.30,470.90 L407.70,474.25 L408.09,477.69 L408.48,481.19 L408.87,484.71 L409.27,488.25 L409.66,491.77 L410.05,495.25 L410.45,498.68 L410.84,502.03 L411.23,505.29 L411.62,508.44 L412.02,511.47 L412.41,514.37 L412.80,517.14 L413.19,519.77 L413.59,522.24 L413.98,524.57 L414.37,526.75 L414.76,528.78 L415.16,530.66 L415.55,532.40 L415.94,534.00 L416.34,535.46 L416.73,536.79 L417.12,538.00 L417.51,539.10 L417.91,540.09 L418.30,540.97 L418.69,541.76 L419.08,542.47 L419.48,543.09 L419.87,543.65 L420.26,544.13 L420.65,544.56 L421.05,544.93 L421.44,545.25 L421.83,545.54 L422.22,545.78 L422.62,545.99 L423.01,546.17 L423.40,546.32 L423.80,546.45 L424.19,546.56 L424.58,546.65 L424.97,546.73 L425.37,546.80 L425.76,546.85" fill="none" stroke="#e8703e" stroke-width="1.2"/>
<text x="485.50" y="429.20" font-size="10.7" text-anchor="end" fill="#1a1a1a" >DMS + 3F-PEA /</text>
<text x="485.50" y="442.00" font-size="10.7" text-anchor="end" fill="#1a1a1a" >CsFAMA</text>
<text x="409.80" y="457.60" font-size="9.7" text-anchor="start" fill="#1a1a1a" >Illum.</text>
<text x="454.20" y="460.60" font-size="9.7" text-anchor="start" fill="#1a1a1a" >Dark</text>
<rect x="559.30" y="415.10" width="114.30" height="132.30" fill="none" stroke="#808080" stroke-width="0.8"/>
<line x1="559.30" y1="547.40" x2="673.60" y2="547.40" stroke="#4d4d4d" stroke-width="0.9"/>
<line x1="559.30" y1="415.10" x2="559.30" y2="547.40" stroke="#4d4d4d" stroke-width="0.9"/>
<line x1="557.50" y1="415.10" x2="559.30" y2="415.10" stroke="#4d4d4d" stroke-width="0.9"/>
<text x="556.10" y="418.40" font-size="9.7" text-anchor="end" fill="#1a1a1a" >-0.3</text>
<line x1="557.50" y1="459.20" x2="559.30" y2="459.20" stroke="#4d4d4d" stroke-width="0.9"/>
<text x="556.10" y="462.50" font-size="9.7" text-anchor="end" fill="#1a1a1a" >-0.4</text>
<line x1="557.50" y1="503.30" x2="559.30" y2="503.30" stroke="#4d4d4d" stroke-width="0.9"/>
<text x="556.10" y="506.60" font-size="9.7" text-anchor="end" fill="#1a1a1a" >-0.5</text>
<line x1="557.50" y1="547.40" x2="559.30" y2="547.40" stroke="#4d4d4d" stroke-width="0.9"/>
<text x="556.10" y="550.70" font-size="9.7" text-anchor="end" fill="#1a1a1a" >-0.6</text>
<line x1="584.40" y1="547.40" x2="584.40" y2="549.20" stroke="#4d4d4d" stroke-width="0.9"/>
<line x1="648.30" y1="547.40" x2="648.30" y2="549.20" stroke="#4d4d4d" stroke-width="0.9"/>
<text x="0" y="0" font-size="9.7" text-anchor="middle" fill="#1a1a1a" transform="translate(537.90,480.60) rotate(-90)">CPD (V)</text>
<path d="M584.4,429.5 L648.3,438.0 L648.3,529.4 L584.4,486.4 Z" fill="#e7eef8"/>
<path d="M584.4,445.8 L648.3,494.2 L648.3,530.5 L584.4,486.8 Z" fill="#f9dcc8"/>
<line x1="584.4" y1="444.4" x2="584.4" y2="486.6" stroke="#f7b58e" stroke-width="0.9"/>
<line x1="582.1999999999999" y1="444.4" x2="586.6" y2="444.4" stroke="#f7b58e" stroke-width="0.9"/>
<line x1="582.1999999999999" y1="486.6" x2="586.6" y2="486.6" stroke="#f7b58e" stroke-width="0.9"/>
<line x1="648.3" y1="494.2" x2="648.3" y2="531.6" stroke="#f7b58e" stroke-width="0.9"/>
<line x1="646.0999999999999" y1="494.2" x2="650.5" y2="494.2" stroke="#f7b58e" stroke-width="0.9"/>
<line x1="646.0999999999999" y1="531.6" x2="650.5" y2="531.6" stroke="#f7b58e" stroke-width="0.9"/>
<line x1="584.4" y1="429.5" x2="584.4" y2="486.2" stroke="#8ab8e0" stroke-width="0.9"/>
<line x1="582.1999999999999" y1="429.5" x2="586.6" y2="429.5" stroke="#8ab8e0" stroke-width="0.9"/>
<line x1="582.1999999999999" y1="486.2" x2="586.6" y2="486.2" stroke="#8ab8e0" stroke-width="0.9"/>
<line x1="648.3" y1="438.0" x2="648.3" y2="529.6" stroke="#8ab8e0" stroke-width="0.9"/>
<line x1="646.0999999999999" y1="438.0" x2="650.5" y2="438.0" stroke="#8ab8e0" stroke-width="0.9"/>
<line x1="646.0999999999999" y1="529.6" x2="650.5" y2="529.6" stroke="#8ab8e0" stroke-width="0.9"/>
<line x1="648.3" y1="494.5" x2="648.3" y2="529.6" stroke="#a8a8a8" stroke-width="0.9"/>
<circle cx="584.4" cy="454.8" r="2.9" fill="#4672b8"/>
<circle cx="584.4" cy="463.8" r="2.9" fill="#f4824e"/>
<circle cx="648.3" cy="479.2" r="2.9" fill="#4672b8"/>
<circle cx="648.3" cy="513.5" r="2.9" fill="#f4824e"/>
<text x="602.80" y="435.50" font-size="10.7" text-anchor="start" fill="#1a1a1a" >3F-PEA /</text>
<text x="602.80" y="447.60" font-size="10.7" text-anchor="start" fill="#1a1a1a" >CsFAMA</text>
<text x="643.60" y="514.20" font-size="10.7" text-anchor="end" fill="#1a1a1a" >DMS + 3F-PEA /</text>
<text x="642.60" y="526.40" font-size="10.7" text-anchor="end" fill="#1a1a1a" >CsFAMA</text>
<text x="0" y="0" font-size="10.2" text-anchor="middle" fill="#1a1a1a" transform="translate(582.6,565.8) rotate(-15)">Dark</text>
<text x="0" y="0" font-size="10.2" text-anchor="middle" fill="#1a1a1a" transform="translate(637.6,566.4) rotate(-15)">Illumination</text>
</svg></body></html>
